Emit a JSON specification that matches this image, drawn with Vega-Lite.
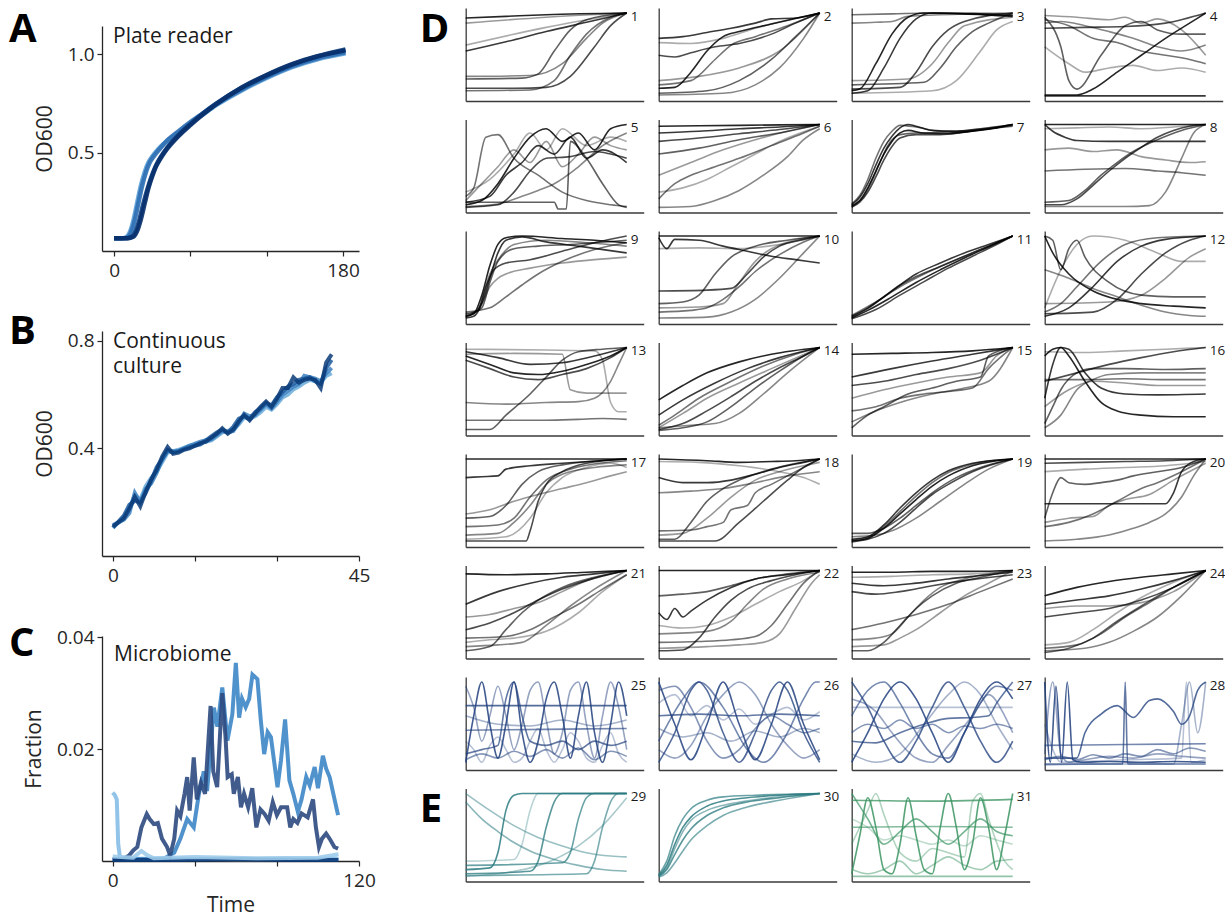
{
"$schema": "https://vega.github.io/schema/vega-lite/v6.json",
"padding": {"left": 9, "top": 8, "right": 0, "bottom": 0},
"autosize": {"type": "pad"},
"background": "white",
"config": {
  "font": "Open Sans",
  "view": {"stroke": null},
  "axis": {"grid": false, "labelFlush": false, "domainColor": "#262626", "domainWidth": 1.3, "tickColor": "#262626", "tickWidth": 1.2, "tickSize": 5, "labelFontSize": 19, "labelColor": "#262626", "labelPadding": 3, "titleFontSize": 21, "titleFontWeight": "normal", "titleColor": "#262626", "titlePadding": 8},
  "axisX": {"labelPadding": 5},
  "axisY": {"titlePadding": 12},
  "header": {"labels": false, "title": null, "labelFontSize": 0, "labelPadding": 0, "labelColor": "transparent"},
  "headerFacet": {"labels": false, "title": null, "labelFontSize": 0, "labelPadding": 0, "labelColor": "transparent"}
},
"spacing": 43.7,
"resolve": {"scale": {"x": "independent", "y": "independent", "color": "independent", "opacity": "independent"}},
"hconcat": [
{
 "bounds": "flush",
 "spacing": 0,
 "resolve": {"scale": {"x": "independent", "y": "independent", "color": "independent"}},
 "vconcat": [
 {"width": 257, "height": 18, "data": {"values": [{}]}, "mark": {"type": "point", "opacity": 0}, "encoding": {}},
 {
  "bounds": "flush",
  "spacing": 80,
  "resolve": {"scale": {"x": "independent", "y": "independent", "color": "independent"}},
  "vconcat": [
    {
      "width": 257, "height": 225,
      "layer": [
      {
        "data": {"values": [
{"s":0,"x":0,"y":0.065},{"s":0,"x":5,"y":0.065},{"s":0,"x":9,"y":0.068},{"s":0,"x":12,"y":0.09},{"s":0,"x":15,"y":0.15},{"s":0,"x":18,"y":0.24},{"s":0,"x":21,"y":0.33},{"s":0,"x":24,"y":0.4},{"s":0,"x":27,"y":0.45},{"s":0,"x":30,"y":0.48},{"s":0,"x":35,"y":0.52},{"s":0,"x":40,"y":0.55},{"s":0,"x":50,"y":0.6},{"s":0,"x":60,"y":0.65},{"s":0,"x":70,"y":0.695},{"s":0,"x":80,"y":0.74},{"s":0,"x":100,"y":0.815},{"s":0,"x":120,"y":0.88},{"s":0,"x":140,"y":0.935},{"s":0,"x":160,"y":0.975},{"s":0,"x":182,"y":1.005},
{"s":1,"x":0,"y":0.065},{"s":1,"x":5,"y":0.065},{"s":1,"x":10,"y":0.068},{"s":1,"x":13,"y":0.09},{"s":1,"x":16,"y":0.15},{"s":1,"x":19,"y":0.24},{"s":1,"x":22,"y":0.33},{"s":1,"x":25,"y":0.4},{"s":1,"x":28,"y":0.45},{"s":1,"x":31,"y":0.48},{"s":1,"x":36,"y":0.52},{"s":1,"x":40,"y":0.55},{"s":1,"x":50,"y":0.605},{"s":1,"x":60,"y":0.655},{"s":1,"x":70,"y":0.7},{"s":1,"x":80,"y":0.745},{"s":1,"x":100,"y":0.82},{"s":1,"x":120,"y":0.885},{"s":1,"x":140,"y":0.94},{"s":1,"x":160,"y":0.98},{"s":1,"x":182,"y":1.01},
{"s":2,"x":0,"y":0.065},{"s":2,"x":10,"y":0.065},{"s":2,"x":14,"y":0.072},{"s":2,"x":17,"y":0.1},{"s":2,"x":20,"y":0.16},{"s":2,"x":23,"y":0.24},{"s":2,"x":26,"y":0.31},{"s":2,"x":29,"y":0.37},{"s":2,"x":32,"y":0.42},{"s":2,"x":35,"y":0.46},{"s":2,"x":40,"y":0.51},{"s":2,"x":50,"y":0.585},{"s":2,"x":60,"y":0.645},{"s":2,"x":70,"y":0.7},{"s":2,"x":80,"y":0.748},{"s":2,"x":100,"y":0.828},{"s":2,"x":120,"y":0.893},{"s":2,"x":140,"y":0.948},{"s":2,"x":160,"y":0.99},{"s":2,"x":182,"y":1.025},
{"s":3,"x":0,"y":0.065},{"s":3,"x":11,"y":0.065},{"s":3,"x":15,"y":0.072},{"s":3,"x":18,"y":0.1},{"s":3,"x":21,"y":0.16},{"s":3,"x":24,"y":0.24},{"s":3,"x":27,"y":0.32},{"s":3,"x":30,"y":0.38},{"s":3,"x":33,"y":0.43},{"s":3,"x":36,"y":0.465},{"s":3,"x":40,"y":0.505},{"s":3,"x":50,"y":0.58},{"s":3,"x":60,"y":0.64},{"s":3,"x":70,"y":0.695},{"s":3,"x":80,"y":0.745},{"s":3,"x":100,"y":0.83},{"s":3,"x":120,"y":0.895},{"s":3,"x":140,"y":0.95},{"s":3,"x":160,"y":0.99},{"s":3,"x":182,"y":1.02}
        ]},
        "mark": {"type": "line", "strokeWidth": 4.5, "interpolate": "monotone", "opacity": 0.9},
        "encoding": {
          "x": {"field": "x", "type": "quantitative", "scale": {"domain": [-9.5, 192.6], "nice": false, "zero": false}, "axis": {"values": [0, 60, 120, 180], "labelExpr": "datum.value == 0 || datum.value == 180 ? datum.label : ''", "title": null}},
          "y": {"field": "y", "type": "quantitative", "scale": {"domain": [0, 1.144], "nice": false, "zero": false}, "axis": {"values": [0.5, 1], "format": ".1f", "title": "OD600"}},
          "color": {"field": "s", "type": "nominal", "scale": {"domain": [0, 1, 2, 3], "range": ["#5b9fd6", "#2f6fb4", "#0d3f80", "#08306b"]}, "legend": null}
        }
      },
      {"data": {"values": [{}]}, "mark": {"type": "text", "text": "A", "align": "left", "baseline": "middle", "dx": -93, "dy": 4, "fontSize": 40, "fontWeight": "bold", "color": "#000"}, "encoding": {"x": {"datum": -9.5}, "y": {"datum": 1.144}}},
      {"data": {"values": [{}]}, "mark": {"type": "text", "text": "Plate reader", "align": "left", "baseline": "top", "dx": 11, "dy": 0, "fontSize": 21, "color": "#1a1a1a"}, "encoding": {"x": {"datum": -9.5}, "y": {"datum": 1.144}}}
      ]
    },
    {
      "width": 257, "height": 225,
      "layer": [
      {
        "data": {"values": [
{"s":0,"x":0,"y":0.105},{"s":0,"x":2,"y":0.145},{"s":0,"x":3,"y":0.18},{"s":0,"x":4,"y":0.225},{"s":0,"x":5,"y":0.21},{"s":0,"x":6,"y":0.26},{"s":0,"x":7,"y":0.29},{"s":0,"x":8,"y":0.315},{"s":0,"x":9,"y":0.35},{"s":0,"x":10,"y":0.385},{"s":0,"x":11,"y":0.39},{"s":0,"x":12,"y":0.395},{"s":0,"x":14,"y":0.41},{"s":0,"x":16,"y":0.42},{"s":0,"x":18,"y":0.43},{"s":0,"x":20,"y":0.46},{"s":0,"x":22,"y":0.47},{"s":0,"x":23,"y":0.49},{"s":0,"x":24,"y":0.515},{"s":0,"x":25,"y":0.51},{"s":0,"x":26,"y":0.52},{"s":0,"x":27,"y":0.535},{"s":0,"x":28,"y":0.555},{"s":0,"x":29,"y":0.545},{"s":0,"x":30,"y":0.565},{"s":0,"x":31,"y":0.59},{"s":0,"x":32,"y":0.6},{"s":0,"x":33,"y":0.62},{"s":0,"x":34,"y":0.63},{"s":0,"x":35,"y":0.645},{"s":0,"x":36,"y":0.655},{"s":0,"x":37,"y":0.65},{"s":0,"x":38,"y":0.645},{"s":0,"x":39,"y":0.67},{"s":0,"x":40,"y":0.68},
{"s":1,"x":0,"y":0.115},{"s":1,"x":2,"y":0.135},{"s":1,"x":3,"y":0.16},{"s":1,"x":4,"y":0.235},{"s":1,"x":5,"y":0.2},{"s":1,"x":6,"y":0.25},{"s":1,"x":7,"y":0.27},{"s":1,"x":8,"y":0.31},{"s":1,"x":9,"y":0.36},{"s":1,"x":10,"y":0.39},{"s":1,"x":11,"y":0.39},{"s":1,"x":12,"y":0.39},{"s":1,"x":14,"y":0.41},{"s":1,"x":16,"y":0.425},{"s":1,"x":18,"y":0.435},{"s":1,"x":20,"y":0.465},{"s":1,"x":21,"y":0.46},{"s":1,"x":22,"y":0.465},{"s":1,"x":23,"y":0.495},{"s":1,"x":24,"y":0.53},{"s":1,"x":25,"y":0.52},{"s":1,"x":26,"y":0.525},{"s":1,"x":27,"y":0.545},{"s":1,"x":28,"y":0.565},{"s":1,"x":29,"y":0.55},{"s":1,"x":30,"y":0.575},{"s":1,"x":31,"y":0.6},{"s":1,"x":32,"y":0.615},{"s":1,"x":33,"y":0.63},{"s":1,"x":34,"y":0.64},{"s":1,"x":35,"y":0.67},{"s":1,"x":36,"y":0.665},{"s":1,"x":37,"y":0.66},{"s":1,"x":38,"y":0.65},{"s":1,"x":39,"y":0.68},{"s":1,"x":40,"y":0.7},
{"s":2,"x":0,"y":0.105},{"s":2,"x":2,"y":0.15},{"s":2,"x":3,"y":0.19},{"s":2,"x":4,"y":0.205},{"s":2,"x":5,"y":0.2},{"s":2,"x":6,"y":0.235},{"s":2,"x":7,"y":0.28},{"s":2,"x":8,"y":0.33},{"s":2,"x":9,"y":0.36},{"s":2,"x":10,"y":0.395},{"s":2,"x":11,"y":0.385},{"s":2,"x":12,"y":0.39},{"s":2,"x":14,"y":0.405},{"s":2,"x":16,"y":0.415},{"s":2,"x":18,"y":0.445},{"s":2,"x":19,"y":0.46},{"s":2,"x":20,"y":0.47},{"s":2,"x":21,"y":0.46},{"s":2,"x":22,"y":0.48},{"s":2,"x":23,"y":0.51},{"s":2,"x":24,"y":0.52},{"s":2,"x":25,"y":0.51},{"s":2,"x":26,"y":0.535},{"s":2,"x":27,"y":0.55},{"s":2,"x":28,"y":0.57},{"s":2,"x":29,"y":0.56},{"s":2,"x":30,"y":0.59},{"s":2,"x":31,"y":0.61},{"s":2,"x":32,"y":0.63},{"s":2,"x":33,"y":0.64},{"s":2,"x":34,"y":0.655},{"s":2,"x":35,"y":0.66},{"s":2,"x":36,"y":0.665},{"s":2,"x":37,"y":0.65},{"s":2,"x":38,"y":0.64},{"s":2,"x":39,"y":0.7},{"s":2,"x":40,"y":0.73},
{"s":3,"x":0,"y":0.11},{"s":3,"x":1,"y":0.125},{"s":3,"x":2,"y":0.14},{"s":3,"x":3,"y":0.175},{"s":3,"x":4,"y":0.22},{"s":3,"x":5,"y":0.185},{"s":3,"x":6,"y":0.24},{"s":3,"x":7,"y":0.285},{"s":3,"x":8,"y":0.32},{"s":3,"x":9,"y":0.37},{"s":3,"x":10,"y":0.405},{"s":3,"x":11,"y":0.38},{"s":3,"x":12,"y":0.385},{"s":3,"x":13,"y":0.395},{"s":3,"x":14,"y":0.4},{"s":3,"x":15,"y":0.41},{"s":3,"x":16,"y":0.42},{"s":3,"x":17,"y":0.425},{"s":3,"x":18,"y":0.44},{"s":3,"x":19,"y":0.455},{"s":3,"x":20,"y":0.475},{"s":3,"x":21,"y":0.455},{"s":3,"x":22,"y":0.47},{"s":3,"x":23,"y":0.5},{"s":3,"x":24,"y":0.525},{"s":3,"x":25,"y":0.505},{"s":3,"x":26,"y":0.53},{"s":3,"x":27,"y":0.555},{"s":3,"x":28,"y":0.575},{"s":3,"x":29,"y":0.555},{"s":3,"x":30,"y":0.585},{"s":3,"x":31,"y":0.625},{"s":3,"x":32,"y":0.625},{"s":3,"x":33,"y":0.665},{"s":3,"x":34,"y":0.645},{"s":3,"x":35,"y":0.655},{"s":3,"x":36,"y":0.66},{"s":3,"x":37,"y":0.655},{"s":3,"x":38,"y":0.625},{"s":3,"x":39,"y":0.72},{"s":3,"x":40,"y":0.75}
        ]},
        "mark": {"type": "line", "strokeWidth": 4, "opacity": 0.85},
        "encoding": {
          "x": {"field": "x", "type": "quantitative", "scale": {"domain": [-2, 45], "nice": false, "zero": false}, "axis": {"values": [0, 15, 30, 45], "labelExpr": "datum.value == 0 || datum.value == 45 ? datum.label : ''", "title": null}},
          "y": {"field": "y", "type": "quantitative", "scale": {"domain": [0, 0.837], "nice": false, "zero": false}, "axis": {"values": [0.4, 0.8], "format": ".1f", "title": "OD600"}},
          "color": {"field": "s", "type": "nominal", "scale": {"domain": [0, 1, 2, 3], "range": ["#6aaad9", "#3b80c0", "#1c5a9e", "#0b3b78"]}, "legend": null}
        }
      },
      {"data": {"values": [{}]}, "mark": {"type": "text", "text": "B", "align": "left", "baseline": "middle", "dx": -93, "dy": 1, "fontSize": 40, "fontWeight": "bold", "color": "#000"}, "encoding": {"x": {"datum": -2}, "y": {"datum": 0.837}}},
      {"data": {"values": [{}]}, "mark": {"type": "text", "text": ["Continuous", "culture"], "lineHeight": 25, "align": "left", "baseline": "top", "dx": 11, "dy": 0, "fontSize": 21, "color": "#1a1a1a"}, "encoding": {"x": {"datum": -2}, "y": {"datum": 0.837}}}
      ]
    },
    {
      "width": 257, "height": 225,
      "layer": [
      {
        "data": {"values": [
{"s":0,"x":0,"y":0.0122},{"s":0,"x":1,"y":0.0118},{"s":0,"x":2,"y":0.011},{"s":0,"x":2.7,"y":0.003},{"s":0,"x":3.5,"y":0.0008},{"s":0,"x":6,"y":0.0004},{"s":0,"x":30,"y":0.0004},{"s":0,"x":60,"y":0.0003},{"s":0,"x":110,"y":0.0004},
{"s":1,"x":0,"y":0.0003},{"s":1,"x":25,"y":0.0004},{"s":1,"x":30,"y":0.0015},{"s":1,"x":33,"y":0.004},{"s":1,"x":36.3,"y":0.0075},{"s":1,"x":39.5,"y":0.006},{"s":1,"x":42,"y":0.012},{"s":1,"x":44.4,"y":0.016},{"s":1,"x":46,"y":0.0125},{"s":1,"x":49.3,"y":0.0274},{"s":1,"x":51,"y":0.024},{"s":1,"x":53.4,"y":0.031},{"s":1,"x":55.9,"y":0.0215},{"s":1,"x":58.3,"y":0.0262},{"s":1,"x":60,"y":0.0354},{"s":1,"x":61.6,"y":0.0256},{"s":1,"x":63,"y":0.029},{"s":1,"x":64.8,"y":0.0275},{"s":1,"x":66.5,"y":0.029},{"s":1,"x":68.1,"y":0.0333},{"s":1,"x":70.5,"y":0.0325},{"s":1,"x":72.2,"y":0.025},{"s":1,"x":73.8,"y":0.0191},{"s":1,"x":75.5,"y":0.023},{"s":1,"x":77.1,"y":0.0221},{"s":1,"x":80.3,"y":0.0132},{"s":1,"x":82,"y":0.018},{"s":1,"x":84,"y":0.0253},{"s":1,"x":86.1,"y":0.0144},{"s":1,"x":88,"y":0.012},{"s":1,"x":90.2,"y":0.0088},{"s":1,"x":92,"y":0.011},{"s":1,"x":94.3,"y":0.015},{"s":1,"x":96,"y":0.0135},{"s":1,"x":98.4,"y":0.0168},{"s":1,"x":100,"y":0.013},{"s":1,"x":102.4,"y":0.0188},{"s":1,"x":104,"y":0.0165},{"s":1,"x":105.7,"y":0.015},{"s":1,"x":107.5,"y":0.012},{"s":1,"x":109.8,"y":0.0082},
{"s":2,"x":0,"y":0.0003},{"s":2,"x":5,"y":0.0003},{"s":2,"x":8,"y":0.001},{"s":2,"x":10,"y":0.0019},{"s":2,"x":12,"y":0.0025},{"s":2,"x":14,"y":0.006},{"s":2,"x":16.6,"y":0.0084},{"s":2,"x":18,"y":0.0075},{"s":2,"x":20,"y":0.0066},{"s":2,"x":22,"y":0.0068},{"s":2,"x":24,"y":0.004},{"s":2,"x":26.5,"y":0.0025},{"s":2,"x":28,"y":0.001},{"s":2,"x":30,"y":0.004},{"s":2,"x":31.4,"y":0.009},{"s":2,"x":33,"y":0.008},{"s":2,"x":35,"y":0.012},{"s":2,"x":36.3,"y":0.015},{"s":2,"x":37.5,"y":0.009},{"s":2,"x":39.5,"y":0.0185},{"s":2,"x":41,"y":0.011},{"s":2,"x":43,"y":0.014},{"s":2,"x":45,"y":0.012},{"s":2,"x":47.7,"y":0.0277},{"s":2,"x":49,"y":0.016},{"s":2,"x":50.9,"y":0.0132},{"s":2,"x":53.4,"y":0.03},{"s":2,"x":55,"y":0.022},{"s":2,"x":56,"y":0.015},{"s":2,"x":58,"y":0.0155},{"s":2,"x":59,"y":0.012},{"s":2,"x":61,"y":0.015},{"s":2,"x":62.5,"y":0.0096},{"s":2,"x":64,"y":0.012},{"s":2,"x":66,"y":0.0096},{"s":2,"x":68,"y":0.013},{"s":2,"x":70,"y":0.006},{"s":2,"x":72,"y":0.0092},{"s":2,"x":74,"y":0.0084},{"s":2,"x":76,"y":0.0072},{"s":2,"x":78,"y":0.0105},{"s":2,"x":80,"y":0.0082},{"s":2,"x":82,"y":0.0096},{"s":2,"x":85,"y":0.0096},{"s":2,"x":86.5,"y":0.006},{"s":2,"x":88,"y":0.0075},{"s":2,"x":90,"y":0.0068},{"s":2,"x":92,"y":0.0085},{"s":2,"x":95,"y":0.0078},{"s":2,"x":97.6,"y":0.011},{"s":2,"x":99,"y":0.006},{"s":2,"x":100.5,"y":0.0025},{"s":2,"x":102,"y":0.004},{"s":2,"x":104,"y":0.0049},{"s":2,"x":106,"y":0.0038},{"s":2,"x":108,"y":0.0025},{"s":2,"x":109.8,"y":0.0022},
{"s":3,"x":0,"y":0.0002},{"s":3,"x":30,"y":0.0002},{"s":3,"x":60,"y":0.0003},{"s":3,"x":90,"y":0.0002},{"s":3,"x":110,"y":0.0002},
{"s":4,"x":0,"y":0.0008},{"s":4,"x":10,"y":0.0006},{"s":4,"x":14,"y":0.0018},{"s":4,"x":17,"y":0.001},{"s":4,"x":20,"y":0.0005},{"s":4,"x":40,"y":0.0007},{"s":4,"x":70,"y":0.0005},{"s":4,"x":100,"y":0.0006},{"s":4,"x":110,"y":0.0012}
        ]},
        "mark": {"type": "line", "strokeWidth": 4, "opacity": 0.9},
        "encoding": {
          "x": {"field": "x", "type": "quantitative", "scale": {"domain": [-5.2, 120], "nice": false, "zero": false}, "axis": {"values": [0, 40, 80, 120], "labelExpr": "datum.value == 0 || datum.value == 120 ? datum.label : ''", "title": "Time", "titlePadding": 4}},
          "y": {"field": "y", "type": "quantitative", "scale": {"domain": [0, 0.0402], "nice": false, "zero": false}, "axis": {"values": [0.02, 0.04], "format": ".2f", "title": "Fraction"}},
          "color": {"field": "s", "type": "nominal", "scale": {"domain": [0, 1, 2, 3, 4], "range": ["#86bde6", "#3d86c6", "#2c4a80", "#0b3a78", "#9ccbea"]}, "legend": null}
        }
      },
      {"data": {"values": [{}]}, "mark": {"type": "text", "text": "C", "align": "left", "baseline": "middle", "dx": -93, "dy": 8, "fontSize": 40, "fontWeight": "bold", "color": "#000"}, "encoding": {"x": {"datum": -5.2}, "y": {"datum": 0.0402}}},
      {"data": {"values": [{}]}, "mark": {"type": "text", "text": "Microbiome", "align": "left", "baseline": "top", "dx": 12, "dy": 8, "fontSize": 21, "color": "#1a1a1a"}, "encoding": {"x": {"datum": -5.2}, "y": {"datum": 0.0402}}}
      ]
    }
  ]
 }
 ]
},
{
  "data": {"values": [
{"p":1,"s":0,"x":0,"y":94},{"p":1,"s":0,"x":5,"y":96},{"p":1,"s":0,"x":10,"y":98},{"p":1,"s":0,"x":20,"y":100},
{"p":1,"s":1,"x":0,"y":55},{"p":1,"s":1,"x":5,"y":66},{"p":1,"s":1,"x":10,"y":78},{"p":1,"s":1,"x":15,"y":89},{"p":1,"s":1,"x":20,"y":100},
{"p":1,"s":2,"x":0,"y":11},{"p":1,"s":2,"x":6,"y":11},{"p":1,"s":2,"x":10,"y":12},{"p":1,"s":2,"x":13,"y":25},{"p":1,"s":2,"x":16,"y":60},{"p":1,"s":2,"x":18,"y":85},{"p":1,"s":2,"x":20,"y":100},
{"p":1,"s":3,"x":0,"y":22},{"p":1,"s":3,"x":7,"y":23},{"p":1,"s":3,"x":9,"y":28},{"p":1,"s":3,"x":11,"y":55},{"p":1,"s":3,"x":13,"y":80},{"p":1,"s":3,"x":15,"y":92},{"p":1,"s":3,"x":20,"y":100},
{"p":1,"s":4,"x":0,"y":8},{"p":1,"s":4,"x":8,"y":9},{"p":1,"s":4,"x":11,"y":20},{"p":1,"s":4,"x":13,"y":50},{"p":1,"s":4,"x":15,"y":75},{"p":1,"s":4,"x":18,"y":95},{"p":1,"s":4,"x":20,"y":100},
{"p":1,"s":5,"x":0,"y":25},{"p":1,"s":5,"x":8,"y":26},{"p":1,"s":5,"x":12,"y":40},{"p":1,"s":5,"x":15,"y":70},{"p":1,"s":5,"x":17,"y":88},{"p":1,"s":5,"x":20,"y":100},
{"p":1,"s":6,"x":0,"y":88},{"p":1,"s":6,"x":10,"y":95},{"p":1,"s":6,"x":20,"y":100},
{"p":1,"s":7,"x":0,"y":62},{"p":1,"s":7,"x":10,"y":83},{"p":1,"s":7,"x":20,"y":100},
{"p":2,"s":0,"x":0,"y":11},{"p":2,"s":0,"x":2,"y":12},{"p":2,"s":0,"x":4,"y":30},{"p":2,"s":0,"x":6,"y":55},{"p":2,"s":0,"x":8,"y":72},{"p":2,"s":0,"x":10,"y":78},{"p":2,"s":0,"x":14,"y":87},{"p":2,"s":0,"x":20,"y":100},
{"p":2,"s":1,"x":0,"y":70},{"p":2,"s":1,"x":3,"y":72},{"p":2,"s":1,"x":6,"y":77},{"p":2,"s":1,"x":9,"y":82},{"p":2,"s":1,"x":12,"y":88},{"p":2,"s":1,"x":14,"y":93},{"p":2,"s":1,"x":17,"y":94},{"p":2,"s":1,"x":20,"y":100},
{"p":2,"s":2,"x":0,"y":50},{"p":2,"s":2,"x":2,"y":48},{"p":2,"s":2,"x":4,"y":53},{"p":2,"s":2,"x":7,"y":60},{"p":2,"s":2,"x":10,"y":64},{"p":2,"s":2,"x":14,"y":75},{"p":2,"s":2,"x":17,"y":88},{"p":2,"s":2,"x":20,"y":100},
{"p":2,"s":3,"x":0,"y":5},{"p":2,"s":3,"x":6,"y":8},{"p":2,"s":3,"x":10,"y":20},{"p":2,"s":3,"x":14,"y":45},{"p":2,"s":3,"x":17,"y":72},{"p":2,"s":3,"x":20,"y":100},
{"p":2,"s":4,"x":0,"y":15},{"p":2,"s":4,"x":4,"y":20},{"p":2,"s":4,"x":7,"y":45},{"p":2,"s":4,"x":9,"y":62},{"p":2,"s":4,"x":12,"y":72},{"p":2,"s":4,"x":16,"y":85},{"p":2,"s":4,"x":20,"y":100},
{"p":2,"s":5,"x":0,"y":3},{"p":2,"s":5,"x":8,"y":5},{"p":2,"s":5,"x":12,"y":15},{"p":2,"s":5,"x":15,"y":35},{"p":2,"s":5,"x":18,"y":70},{"p":2,"s":5,"x":20,"y":100},
{"p":2,"s":6,"x":0,"y":20},{"p":2,"s":6,"x":5,"y":25},{"p":2,"s":6,"x":10,"y":35},{"p":2,"s":6,"x":15,"y":55},{"p":2,"s":6,"x":20,"y":100},
{"p":2,"s":7,"x":0,"y":65},{"p":2,"s":7,"x":4,"y":64},{"p":2,"s":7,"x":8,"y":70},{"p":2,"s":7,"x":12,"y":82},{"p":2,"s":7,"x":20,"y":100},
{"p":3,"s":0,"x":0,"y":8},{"p":3,"s":0,"x":1,"y":10},{"p":3,"s":0,"x":3,"y":40},{"p":3,"s":0,"x":5,"y":75},{"p":3,"s":0,"x":7,"y":95},{"p":3,"s":0,"x":9,"y":100},{"p":3,"s":0,"x":14,"y":99},{"p":3,"s":0,"x":20,"y":96},
{"p":3,"s":1,"x":0,"y":5},{"p":3,"s":1,"x":2,"y":8},{"p":3,"s":1,"x":4,"y":35},{"p":3,"s":1,"x":6,"y":70},{"p":3,"s":1,"x":8,"y":93},{"p":3,"s":1,"x":10,"y":100},{"p":3,"s":1,"x":20,"y":97},
{"p":3,"s":2,"x":0,"y":10},{"p":3,"s":2,"x":6,"y":12},{"p":3,"s":2,"x":8,"y":30},{"p":3,"s":2,"x":10,"y":60},{"p":3,"s":2,"x":12,"y":80},{"p":3,"s":2,"x":14,"y":90},{"p":3,"s":2,"x":20,"y":100},
{"p":3,"s":3,"x":0,"y":15},{"p":3,"s":3,"x":9,"y":18},{"p":3,"s":3,"x":11,"y":35},{"p":3,"s":3,"x":13,"y":60},{"p":3,"s":3,"x":15,"y":78},{"p":3,"s":3,"x":17,"y":88},{"p":3,"s":3,"x":20,"y":100},
{"p":3,"s":4,"x":0,"y":98},{"p":3,"s":4,"x":5,"y":99},{"p":3,"s":4,"x":10,"y":100},{"p":3,"s":4,"x":15,"y":100},{"p":3,"s":4,"x":20,"y":98},
{"p":3,"s":5,"x":0,"y":88},{"p":3,"s":5,"x":3,"y":89},{"p":3,"s":5,"x":5,"y":90},{"p":3,"s":5,"x":7,"y":96},{"p":3,"s":5,"x":20,"y":100},
{"p":3,"s":6,"x":0,"y":20},{"p":3,"s":6,"x":7,"y":22},{"p":3,"s":6,"x":10,"y":40},{"p":3,"s":6,"x":12,"y":65},{"p":3,"s":6,"x":14,"y":85},{"p":3,"s":6,"x":20,"y":95},
{"p":3,"s":7,"x":0,"y":5},{"p":3,"s":7,"x":10,"y":8},{"p":3,"s":7,"x":13,"y":20},{"p":3,"s":7,"x":16,"y":55},{"p":3,"s":7,"x":18,"y":80},{"p":3,"s":7,"x":20,"y":90},
{"p":4,"s":0,"x":0,"y":3},{"p":4,"s":0,"x":4,"y":3},{"p":4,"s":0,"x":6,"y":10},{"p":4,"s":0,"x":9,"y":30},{"p":4,"s":0,"x":12,"y":50},{"p":4,"s":0,"x":15,"y":70},{"p":4,"s":0,"x":18,"y":88},{"p":4,"s":0,"x":20,"y":100},
{"p":4,"s":1,"x":0,"y":2},{"p":4,"s":1,"x":20,"y":2},
{"p":4,"s":2,"x":0,"y":82},{"p":4,"s":2,"x":5,"y":83},{"p":4,"s":2,"x":10,"y":84},{"p":4,"s":2,"x":15,"y":88},{"p":4,"s":2,"x":20,"y":100},
{"p":4,"s":3,"x":0,"y":95},{"p":4,"s":3,"x":2,"y":60},{"p":4,"s":3,"x":3,"y":20},{"p":4,"s":3,"x":4,"y":10},{"p":4,"s":3,"x":7,"y":50},{"p":4,"s":3,"x":10,"y":85},{"p":4,"s":3,"x":12,"y":90},{"p":4,"s":3,"x":14,"y":80},{"p":4,"s":3,"x":17,"y":75},{"p":4,"s":3,"x":20,"y":75},
{"p":4,"s":4,"x":0,"y":92},{"p":4,"s":4,"x":3,"y":85},{"p":4,"s":4,"x":6,"y":70},{"p":4,"s":4,"x":9,"y":65},{"p":4,"s":4,"x":12,"y":55},{"p":4,"s":4,"x":15,"y":50},{"p":4,"s":4,"x":18,"y":45},{"p":4,"s":4,"x":20,"y":40},
{"p":4,"s":5,"x":0,"y":88},{"p":4,"s":5,"x":2,"y":90},{"p":4,"s":5,"x":5,"y":85},{"p":4,"s":5,"x":8,"y":78},{"p":4,"s":5,"x":11,"y":70},{"p":4,"s":5,"x":14,"y":60},{"p":4,"s":5,"x":17,"y":55},{"p":4,"s":5,"x":20,"y":62},
{"p":4,"s":6,"x":0,"y":97},{"p":4,"s":6,"x":4,"y":95},{"p":4,"s":6,"x":8,"y":92},{"p":4,"s":6,"x":10,"y":95},{"p":4,"s":6,"x":12,"y":88},{"p":4,"s":6,"x":14,"y":93},{"p":4,"s":6,"x":17,"y":80},{"p":4,"s":6,"x":20,"y":50},
{"p":4,"s":7,"x":0,"y":60},{"p":4,"s":7,"x":3,"y":40},{"p":4,"s":7,"x":5,"y":30},{"p":4,"s":7,"x":8,"y":35},{"p":4,"s":7,"x":11,"y":38},{"p":4,"s":7,"x":14,"y":32},{"p":4,"s":7,"x":17,"y":35},{"p":4,"s":7,"x":20,"y":30},
{"p":5,"s":0,"x":0,"y":5},{"p":5,"s":0,"x":2,"y":10},{"p":5,"s":0,"x":4,"y":30},{"p":5,"s":0,"x":6,"y":60},{"p":5,"s":0,"x":8,"y":85},{"p":5,"s":0,"x":10,"y":95},{"p":5,"s":0,"x":12,"y":80},{"p":5,"s":0,"x":14,"y":90},{"p":5,"s":0,"x":16,"y":70},{"p":5,"s":0,"x":18,"y":95},{"p":5,"s":0,"x":20,"y":100},
{"p":5,"s":1,"x":0,"y":8},{"p":5,"s":1,"x":3,"y":15},{"p":5,"s":1,"x":5,"y":40},{"p":5,"s":1,"x":7,"y":55},{"p":5,"s":1,"x":9,"y":75},{"p":5,"s":1,"x":11,"y":65},{"p":5,"s":1,"x":13,"y":85},{"p":5,"s":1,"x":15,"y":60},{"p":5,"s":1,"x":17,"y":70},{"p":5,"s":1,"x":20,"y":55},
{"p":5,"s":2,"x":0,"y":2},{"p":5,"s":2,"x":4,"y":5},{"p":5,"s":2,"x":6,"y":20},{"p":5,"s":2,"x":8,"y":45},{"p":5,"s":2,"x":10,"y":60},{"p":5,"s":2,"x":13,"y":62},{"p":5,"s":2,"x":16,"y":68},{"p":5,"s":2,"x":18,"y":65},{"p":5,"s":2,"x":20,"y":60},
{"p":5,"s":3,"x":0,"y":8},{"p":5,"s":3,"x":11,"y":8},{"p":5,"s":3,"x":11.5,"y":0},{"p":5,"s":3,"x":12.5,"y":0},{"p":5,"s":3,"x":13,"y":80},{"p":5,"s":3,"x":15,"y":60},{"p":5,"s":3,"x":17,"y":30},{"p":5,"s":3,"x":19,"y":5},{"p":5,"s":3,"x":20,"y":2},
{"p":5,"s":4,"x":0,"y":15},{"p":5,"s":4,"x":1,"y":25},{"p":5,"s":4,"x":2.5,"y":85},{"p":5,"s":4,"x":4,"y":88},{"p":5,"s":4,"x":6,"y":60},{"p":5,"s":4,"x":9,"y":40},{"p":5,"s":4,"x":12,"y":20},{"p":5,"s":4,"x":15,"y":10},{"p":5,"s":4,"x":18,"y":5},{"p":5,"s":4,"x":20,"y":3},
{"p":5,"s":5,"x":0,"y":3},{"p":5,"s":5,"x":4,"y":6},{"p":5,"s":5,"x":7,"y":15},{"p":5,"s":5,"x":9,"y":22},{"p":5,"s":5,"x":11,"y":30},{"p":5,"s":5,"x":14,"y":50},{"p":5,"s":5,"x":17,"y":75},{"p":5,"s":5,"x":20,"y":90},
{"p":5,"s":6,"x":0,"y":10},{"p":5,"s":6,"x":2,"y":30},{"p":5,"s":6,"x":4,"y":50},{"p":5,"s":6,"x":6,"y":70},{"p":5,"s":6,"x":8,"y":55},{"p":5,"s":6,"x":10,"y":80},{"p":5,"s":6,"x":12,"y":50},{"p":5,"s":6,"x":14,"y":65},{"p":5,"s":6,"x":16,"y":85},{"p":5,"s":6,"x":18,"y":75},{"p":5,"s":6,"x":20,"y":70},
{"p":5,"s":7,"x":0,"y":20},{"p":5,"s":7,"x":3,"y":35},{"p":5,"s":7,"x":6,"y":65},{"p":5,"s":7,"x":8,"y":90},{"p":5,"s":7,"x":10,"y":70},{"p":5,"s":7,"x":12,"y":95},{"p":5,"s":7,"x":15,"y":75},{"p":5,"s":7,"x":18,"y":85},{"p":5,"s":7,"x":20,"y":80},
{"p":6,"s":0,"x":0,"y":98},{"p":6,"s":0,"x":10,"y":99},{"p":6,"s":0,"x":20,"y":100},
{"p":6,"s":1,"x":0,"y":90},{"p":6,"s":1,"x":5,"y":92},{"p":6,"s":1,"x":10,"y":95},{"p":6,"s":1,"x":15,"y":97},{"p":6,"s":1,"x":20,"y":100},
{"p":6,"s":2,"x":0,"y":80},{"p":6,"s":2,"x":5,"y":84},{"p":6,"s":2,"x":10,"y":89},{"p":6,"s":2,"x":15,"y":94},{"p":6,"s":2,"x":20,"y":100},
{"p":6,"s":3,"x":0,"y":65},{"p":6,"s":3,"x":5,"y":72},{"p":6,"s":3,"x":10,"y":82},{"p":6,"s":3,"x":15,"y":90},{"p":6,"s":3,"x":20,"y":100},
{"p":6,"s":4,"x":0,"y":12},{"p":6,"s":4,"x":2,"y":30},{"p":6,"s":4,"x":4,"y":40},{"p":6,"s":4,"x":7,"y":50},{"p":6,"s":4,"x":10,"y":60},{"p":6,"s":4,"x":14,"y":75},{"p":6,"s":4,"x":18,"y":90},{"p":6,"s":4,"x":20,"y":98},
{"p":6,"s":5,"x":0,"y":2},{"p":6,"s":5,"x":4,"y":3},{"p":6,"s":5,"x":7,"y":10},{"p":6,"s":5,"x":10,"y":22},{"p":6,"s":5,"x":13,"y":40},{"p":6,"s":5,"x":16,"y":62},{"p":6,"s":5,"x":18,"y":82},{"p":6,"s":5,"x":20,"y":95},
{"p":6,"s":6,"x":0,"y":40},{"p":6,"s":6,"x":4,"y":55},{"p":6,"s":6,"x":8,"y":70},{"p":6,"s":6,"x":12,"y":82},{"p":6,"s":6,"x":16,"y":92},{"p":6,"s":6,"x":20,"y":100},
{"p":6,"s":7,"x":0,"y":20},{"p":6,"s":7,"x":3,"y":25},{"p":6,"s":7,"x":6,"y":35},{"p":6,"s":7,"x":9,"y":50},{"p":6,"s":7,"x":12,"y":65},{"p":6,"s":7,"x":15,"y":80},{"p":6,"s":7,"x":20,"y":98},
{"p":7,"s":0,"x":0,"y":3},{"p":7,"s":0,"x":1,"y":10},{"p":7,"s":0,"x":2,"y":25},{"p":7,"s":0,"x":3,"y":45},{"p":7,"s":0,"x":4,"y":65},{"p":7,"s":0,"x":5,"y":80},{"p":7,"s":0,"x":6,"y":90},{"p":7,"s":0,"x":7,"y":93},{"p":7,"s":0,"x":9,"y":90},{"p":7,"s":0,"x":12,"y":90},{"p":7,"s":0,"x":15,"y":92},{"p":7,"s":0,"x":18,"y":96},{"p":7,"s":0,"x":20,"y":100},
{"p":7,"s":1,"x":0,"y":5},{"p":7,"s":1,"x":1,"y":14},{"p":7,"s":1,"x":2,"y":30},{"p":7,"s":1,"x":3,"y":52},{"p":7,"s":1,"x":4,"y":72},{"p":7,"s":1,"x":5,"y":86},{"p":7,"s":1,"x":6,"y":96},{"p":7,"s":1,"x":7,"y":100},{"p":7,"s":1,"x":8,"y":98},{"p":7,"s":1,"x":10,"y":93},{"p":7,"s":1,"x":13,"y":92},{"p":7,"s":1,"x":16,"y":95},{"p":7,"s":1,"x":20,"y":100},
{"p":7,"s":2,"x":0,"y":2},{"p":7,"s":2,"x":1,"y":8},{"p":7,"s":2,"x":2,"y":20},{"p":7,"s":2,"x":3,"y":38},{"p":7,"s":2,"x":4,"y":58},{"p":7,"s":2,"x":5,"y":74},{"p":7,"s":2,"x":6,"y":84},{"p":7,"s":2,"x":8,"y":88},{"p":7,"s":2,"x":11,"y":88},{"p":7,"s":2,"x":14,"y":91},{"p":7,"s":2,"x":17,"y":95},{"p":7,"s":2,"x":20,"y":100},
{"p":7,"s":3,"x":0,"y":4},{"p":7,"s":3,"x":1.5,"y":15},{"p":7,"s":3,"x":2.5,"y":33},{"p":7,"s":3,"x":3.5,"y":55},{"p":7,"s":3,"x":4.5,"y":75},{"p":7,"s":3,"x":6,"y":88},{"p":7,"s":3,"x":8,"y":90},{"p":7,"s":3,"x":12,"y":89},{"p":7,"s":3,"x":16,"y":94},{"p":7,"s":3,"x":20,"y":98},
{"p":7,"s":4,"x":0,"y":6},{"p":7,"s":4,"x":1,"y":16},{"p":7,"s":4,"x":2,"y":35},{"p":7,"s":4,"x":3,"y":60},{"p":7,"s":4,"x":4,"y":80},{"p":7,"s":4,"x":5,"y":92},{"p":7,"s":4,"x":6,"y":99},{"p":7,"s":4,"x":8,"y":97},{"p":7,"s":4,"x":11,"y":92},{"p":7,"s":4,"x":15,"y":93},{"p":7,"s":4,"x":20,"y":99},
{"p":8,"s":0,"x":0,"y":100},{"p":8,"s":0,"x":20,"y":100},
{"p":8,"s":1,"x":0,"y":100},{"p":8,"s":1,"x":1,"y":92},{"p":8,"s":1,"x":2.5,"y":85},{"p":8,"s":1,"x":4,"y":81},{"p":8,"s":1,"x":8,"y":80},{"p":8,"s":1,"x":20,"y":80},
{"p":8,"s":2,"x":0,"y":5},{"p":8,"s":2,"x":2,"y":5},{"p":8,"s":2,"x":4,"y":12},{"p":8,"s":2,"x":6,"y":28},{"p":8,"s":2,"x":8,"y":45},{"p":8,"s":2,"x":10,"y":60},{"p":8,"s":2,"x":12,"y":73},{"p":8,"s":2,"x":14,"y":85},{"p":8,"s":2,"x":16,"y":93},{"p":8,"s":2,"x":18,"y":98},{"p":8,"s":2,"x":20,"y":100},
{"p":8,"s":3,"x":0,"y":8},{"p":8,"s":3,"x":3,"y":10},{"p":8,"s":3,"x":5,"y":22},{"p":8,"s":3,"x":7,"y":40},{"p":8,"s":3,"x":9,"y":55},{"p":8,"s":3,"x":11,"y":68},{"p":8,"s":3,"x":14,"y":82},{"p":8,"s":3,"x":17,"y":93},{"p":8,"s":3,"x":20,"y":100},
{"p":8,"s":4,"x":0,"y":45},{"p":8,"s":4,"x":5,"y":47},{"p":8,"s":4,"x":10,"y":48},{"p":8,"s":4,"x":14,"y":45},{"p":8,"s":4,"x":17,"y":43},{"p":8,"s":4,"x":20,"y":40},
{"p":8,"s":5,"x":0,"y":3},{"p":8,"s":5,"x":10,"y":3},{"p":8,"s":5,"x":13,"y":4},{"p":8,"s":5,"x":15,"y":20},{"p":8,"s":5,"x":17,"y":60},{"p":8,"s":5,"x":18.5,"y":90},{"p":8,"s":5,"x":20,"y":100},
{"p":8,"s":6,"x":0,"y":70},{"p":8,"s":6,"x":3,"y":72},{"p":8,"s":6,"x":6,"y":68},{"p":8,"s":6,"x":9,"y":70},{"p":8,"s":6,"x":12,"y":62},{"p":8,"s":6,"x":15,"y":58},{"p":8,"s":6,"x":18,"y":55},{"p":8,"s":6,"x":20,"y":56},
{"p":8,"s":7,"x":0,"y":95},{"p":8,"s":7,"x":4,"y":96},{"p":8,"s":7,"x":8,"y":97},{"p":8,"s":7,"x":12,"y":95},{"p":8,"s":7,"x":16,"y":97},{"p":8,"s":7,"x":20,"y":100},
{"p":9,"s":0,"x":0,"y":5},{"p":9,"s":0,"x":1,"y":8},{"p":9,"s":0,"x":2,"y":30},{"p":9,"s":0,"x":3,"y":65},{"p":9,"s":0,"x":4,"y":90},{"p":9,"s":0,"x":5,"y":98},{"p":9,"s":0,"x":7,"y":100},{"p":9,"s":0,"x":12,"y":97},{"p":9,"s":0,"x":16,"y":95},{"p":9,"s":0,"x":20,"y":92},
{"p":9,"s":1,"x":0,"y":3},{"p":9,"s":1,"x":1,"y":5},{"p":9,"s":1,"x":2,"y":20},{"p":9,"s":1,"x":3,"y":50},{"p":9,"s":1,"x":4,"y":80},{"p":9,"s":1,"x":5,"y":95},{"p":9,"s":1,"x":7,"y":99},{"p":9,"s":1,"x":10,"y":93},{"p":9,"s":1,"x":14,"y":88},{"p":9,"s":1,"x":20,"y":80},
{"p":9,"s":2,"x":0,"y":8},{"p":9,"s":2,"x":1.5,"y":12},{"p":9,"s":2,"x":2.5,"y":40},{"p":9,"s":2,"x":3.5,"y":60},{"p":9,"s":2,"x":5,"y":68},{"p":9,"s":2,"x":8,"y":72},{"p":9,"s":2,"x":12,"y":82},{"p":9,"s":2,"x":16,"y":92},{"p":9,"s":2,"x":20,"y":100},
{"p":9,"s":3,"x":0,"y":6},{"p":9,"s":3,"x":2,"y":15},{"p":9,"s":3,"x":3,"y":45},{"p":9,"s":3,"x":4,"y":70},{"p":9,"s":3,"x":6,"y":85},{"p":9,"s":3,"x":9,"y":88},{"p":9,"s":3,"x":13,"y":90},{"p":9,"s":3,"x":20,"y":95},
{"p":9,"s":4,"x":0,"y":10},{"p":9,"s":4,"x":3,"y":15},{"p":9,"s":4,"x":5,"y":28},{"p":9,"s":4,"x":7,"y":42},{"p":9,"s":4,"x":9,"y":55},{"p":9,"s":4,"x":12,"y":70},{"p":9,"s":4,"x":16,"y":84},{"p":9,"s":4,"x":20,"y":92},
{"p":9,"s":5,"x":0,"y":5},{"p":9,"s":5,"x":1.5,"y":12},{"p":9,"s":5,"x":3,"y":55},{"p":9,"s":5,"x":4.5,"y":78},{"p":9,"s":5,"x":6,"y":90},{"p":9,"s":5,"x":10,"y":95},{"p":9,"s":5,"x":15,"y":92},{"p":9,"s":5,"x":20,"y":88},
{"p":9,"s":6,"x":0,"y":4},{"p":9,"s":6,"x":2,"y":20},{"p":9,"s":6,"x":3,"y":40},{"p":9,"s":6,"x":4,"y":50},{"p":9,"s":6,"x":5,"y":55},{"p":9,"s":6,"x":8,"y":62},{"p":9,"s":6,"x":12,"y":68},{"p":9,"s":6,"x":16,"y":72},{"p":9,"s":6,"x":20,"y":75},
{"p":10,"s":0,"x":0,"y":100},{"p":10,"s":0,"x":20,"y":100},
{"p":10,"s":1,"x":0,"y":98},{"p":10,"s":1,"x":1,"y":85},{"p":10,"s":1,"x":2,"y":96},{"p":10,"s":1,"x":5,"y":95},{"p":10,"s":1,"x":8,"y":88},{"p":10,"s":1,"x":11,"y":82},{"p":10,"s":1,"x":14,"y":76},{"p":10,"s":1,"x":17,"y":72},{"p":10,"s":1,"x":20,"y":68},
{"p":10,"s":2,"x":0,"y":35},{"p":10,"s":2,"x":6,"y":36},{"p":10,"s":2,"x":9,"y":38},{"p":10,"s":2,"x":11,"y":55},{"p":10,"s":2,"x":13,"y":75},{"p":10,"s":2,"x":15,"y":88},{"p":10,"s":2,"x":18,"y":96},{"p":10,"s":2,"x":20,"y":100},
{"p":10,"s":3,"x":0,"y":20},{"p":10,"s":3,"x":3,"y":22},{"p":10,"s":3,"x":5,"y":30},{"p":10,"s":3,"x":7,"y":55},{"p":10,"s":3,"x":9,"y":75},{"p":10,"s":3,"x":12,"y":88},{"p":10,"s":3,"x":16,"y":95},{"p":10,"s":3,"x":20,"y":100},
{"p":10,"s":4,"x":0,"y":10},{"p":10,"s":4,"x":4,"y":12},{"p":10,"s":4,"x":6,"y":15},{"p":10,"s":4,"x":8,"y":25},{"p":10,"s":4,"x":10,"y":40},{"p":10,"s":4,"x":12,"y":58},{"p":10,"s":4,"x":15,"y":78},{"p":10,"s":4,"x":18,"y":93},{"p":10,"s":4,"x":20,"y":100},
{"p":10,"s":5,"x":0,"y":3},{"p":10,"s":5,"x":6,"y":4},{"p":10,"s":5,"x":9,"y":10},{"p":10,"s":5,"x":12,"y":25},{"p":10,"s":5,"x":15,"y":50},{"p":10,"s":5,"x":18,"y":80},{"p":10,"s":5,"x":20,"y":100},
{"p":10,"s":6,"x":0,"y":15},{"p":10,"s":6,"x":5,"y":16},{"p":10,"s":6,"x":8,"y":20},{"p":10,"s":6,"x":10,"y":45},{"p":10,"s":6,"x":12,"y":70},{"p":10,"s":6,"x":14,"y":85},{"p":10,"s":6,"x":20,"y":100},
{"p":10,"s":7,"x":0,"y":85},{"p":10,"s":7,"x":5,"y":86},{"p":10,"s":7,"x":10,"y":85},{"p":10,"s":7,"x":15,"y":90},{"p":10,"s":7,"x":20,"y":100},
{"p":11,"s":0,"x":0,"y":3},{"p":11,"s":0,"x":2,"y":12},{"p":11,"s":0,"x":5,"y":28},{"p":11,"s":0,"x":8,"y":45},{"p":11,"s":0,"x":11,"y":60},{"p":11,"s":0,"x":14,"y":74},{"p":11,"s":0,"x":17,"y":87},{"p":11,"s":0,"x":20,"y":100},
{"p":11,"s":1,"x":0,"y":5},{"p":11,"s":1,"x":2,"y":15},{"p":11,"s":1,"x":5,"y":35},{"p":11,"s":1,"x":8,"y":55},{"p":11,"s":1,"x":11,"y":68},{"p":11,"s":1,"x":14,"y":80},{"p":11,"s":1,"x":17,"y":90},{"p":11,"s":1,"x":20,"y":100},
{"p":11,"s":2,"x":0,"y":2},{"p":11,"s":2,"x":3,"y":13},{"p":11,"s":2,"x":6,"y":30},{"p":11,"s":2,"x":9,"y":46},{"p":11,"s":2,"x":12,"y":62},{"p":11,"s":2,"x":15,"y":76},{"p":11,"s":2,"x":18,"y":90},{"p":11,"s":2,"x":20,"y":100},
{"p":11,"s":3,"x":0,"y":4},{"p":11,"s":3,"x":2,"y":14},{"p":11,"s":3,"x":4,"y":28},{"p":11,"s":3,"x":6,"y":42},{"p":11,"s":3,"x":8,"y":52},{"p":11,"s":3,"x":11,"y":64},{"p":11,"s":3,"x":14,"y":76},{"p":11,"s":3,"x":17,"y":88},{"p":11,"s":3,"x":20,"y":100},
{"p":11,"s":4,"x":0,"y":6},{"p":11,"s":4,"x":3,"y":22},{"p":11,"s":4,"x":6,"y":40},{"p":11,"s":4,"x":9,"y":55},{"p":11,"s":4,"x":12,"y":68},{"p":11,"s":4,"x":15,"y":80},{"p":11,"s":4,"x":18,"y":92},{"p":11,"s":4,"x":20,"y":100},
{"p":12,"s":0,"x":0,"y":100},{"p":12,"s":0,"x":1,"y":80},{"p":12,"s":0,"x":3,"y":55},{"p":12,"s":0,"x":6,"y":35},{"p":12,"s":0,"x":9,"y":25},{"p":12,"s":0,"x":12,"y":20},{"p":12,"s":0,"x":16,"y":17},{"p":12,"s":0,"x":20,"y":15},
{"p":12,"s":1,"x":0,"y":5},{"p":12,"s":1,"x":3,"y":15},{"p":12,"s":1,"x":6,"y":40},{"p":12,"s":1,"x":9,"y":70},{"p":12,"s":1,"x":12,"y":88},{"p":12,"s":1,"x":15,"y":96},{"p":12,"s":1,"x":20,"y":100},
{"p":12,"s":2,"x":0,"y":8},{"p":12,"s":2,"x":6,"y":10},{"p":12,"s":2,"x":9,"y":25},{"p":12,"s":2,"x":12,"y":55},{"p":12,"s":2,"x":15,"y":80},{"p":12,"s":2,"x":18,"y":95},{"p":12,"s":2,"x":20,"y":100},
{"p":12,"s":3,"x":0,"y":100},{"p":12,"s":3,"x":1,"y":95},{"p":12,"s":3,"x":2,"y":60},{"p":12,"s":3,"x":3,"y":85},{"p":12,"s":3,"x":4,"y":95},{"p":12,"s":3,"x":5,"y":75},{"p":12,"s":3,"x":8,"y":45},{"p":12,"s":3,"x":12,"y":30},{"p":12,"s":3,"x":16,"y":28},{"p":12,"s":3,"x":20,"y":28},
{"p":12,"s":4,"x":0,"y":10},{"p":12,"s":4,"x":2,"y":20},{"p":12,"s":4,"x":4,"y":40},{"p":12,"s":4,"x":7,"y":70},{"p":12,"s":4,"x":10,"y":90},{"p":12,"s":4,"x":14,"y":98},{"p":12,"s":4,"x":20,"y":100},
{"p":12,"s":5,"x":0,"y":60},{"p":12,"s":5,"x":3,"y":50},{"p":12,"s":5,"x":6,"y":38},{"p":12,"s":5,"x":9,"y":28},{"p":12,"s":5,"x":12,"y":18},{"p":12,"s":5,"x":15,"y":10},{"p":12,"s":5,"x":18,"y":6},{"p":12,"s":5,"x":20,"y":5},
{"p":12,"s":6,"x":0,"y":20},{"p":12,"s":6,"x":8,"y":22},{"p":12,"s":6,"x":12,"y":30},{"p":12,"s":6,"x":15,"y":50},{"p":12,"s":6,"x":18,"y":75},{"p":12,"s":6,"x":20,"y":85},
{"p":12,"s":7,"x":0,"y":15},{"p":12,"s":7,"x":2,"y":60},{"p":12,"s":7,"x":4,"y":90},{"p":12,"s":7,"x":6,"y":100},{"p":12,"s":7,"x":10,"y":95},{"p":12,"s":7,"x":14,"y":80},{"p":12,"s":7,"x":17,"y":70},{"p":12,"s":7,"x":20,"y":70},
{"p":13,"s":0,"x":0,"y":90},{"p":13,"s":0,"x":3,"y":80},{"p":13,"s":0,"x":6,"y":70},{"p":13,"s":0,"x":9,"y":68},{"p":13,"s":0,"x":12,"y":72},{"p":13,"s":0,"x":15,"y":80},{"p":13,"s":0,"x":18,"y":90},{"p":13,"s":0,"x":20,"y":100},
{"p":13,"s":1,"x":0,"y":95},{"p":13,"s":1,"x":4,"y":88},{"p":13,"s":1,"x":8,"y":80},{"p":13,"s":1,"x":12,"y":82},{"p":13,"s":1,"x":16,"y":90},{"p":13,"s":1,"x":20,"y":100},
{"p":13,"s":2,"x":0,"y":85},{"p":13,"s":2,"x":3,"y":75},{"p":13,"s":2,"x":6,"y":65},{"p":13,"s":2,"x":9,"y":62},{"p":13,"s":2,"x":12,"y":68},{"p":13,"s":2,"x":15,"y":75},{"p":13,"s":2,"x":18,"y":88},{"p":13,"s":2,"x":20,"y":100},
{"p":13,"s":3,"x":0,"y":3},{"p":13,"s":3,"x":3,"y":3},{"p":13,"s":3,"x":5,"y":20},{"p":13,"s":3,"x":8,"y":45},{"p":13,"s":3,"x":10,"y":65},{"p":13,"s":3,"x":12,"y":85},{"p":13,"s":3,"x":14,"y":95},{"p":13,"s":3,"x":17,"y":98},{"p":13,"s":3,"x":20,"y":100},
{"p":13,"s":4,"x":0,"y":14},{"p":13,"s":4,"x":10,"y":14},{"p":13,"s":4,"x":14,"y":15},{"p":13,"s":4,"x":17,"y":16},{"p":13,"s":4,"x":20,"y":15},
{"p":13,"s":5,"x":0,"y":35},{"p":13,"s":5,"x":5,"y":33},{"p":13,"s":5,"x":10,"y":35},{"p":13,"s":5,"x":14,"y":36},{"p":13,"s":5,"x":16,"y":40},{"p":13,"s":5,"x":18,"y":60},{"p":13,"s":5,"x":19,"y":80},{"p":13,"s":5,"x":20,"y":100},
{"p":13,"s":6,"x":0,"y":92},{"p":13,"s":6,"x":6,"y":93},{"p":13,"s":6,"x":12,"y":92},{"p":13,"s":6,"x":13,"y":50},{"p":13,"s":6,"x":15,"y":46},{"p":13,"s":6,"x":20,"y":46},
{"p":13,"s":7,"x":0,"y":98},{"p":13,"s":7,"x":10,"y":97},{"p":13,"s":7,"x":16,"y":96},{"p":13,"s":7,"x":17,"y":85},{"p":13,"s":7,"x":18,"y":35},{"p":13,"s":7,"x":19,"y":24},{"p":13,"s":7,"x":20,"y":24},
{"p":14,"s":0,"x":0,"y":38},{"p":14,"s":0,"x":3,"y":55},{"p":14,"s":0,"x":6,"y":70},{"p":14,"s":0,"x":10,"y":83},{"p":14,"s":0,"x":14,"y":92},{"p":14,"s":0,"x":20,"y":100},
{"p":14,"s":1,"x":0,"y":20},{"p":14,"s":1,"x":3,"y":38},{"p":14,"s":1,"x":7,"y":58},{"p":14,"s":1,"x":11,"y":75},{"p":14,"s":1,"x":15,"y":88},{"p":14,"s":1,"x":20,"y":100},
{"p":14,"s":2,"x":0,"y":3},{"p":14,"s":2,"x":3,"y":10},{"p":14,"s":2,"x":6,"y":25},{"p":14,"s":2,"x":9,"y":42},{"p":14,"s":2,"x":12,"y":60},{"p":14,"s":2,"x":15,"y":76},{"p":14,"s":2,"x":18,"y":90},{"p":14,"s":2,"x":20,"y":100},
{"p":14,"s":3,"x":0,"y":2},{"p":14,"s":3,"x":3,"y":5},{"p":14,"s":3,"x":6,"y":12},{"p":14,"s":3,"x":9,"y":30},{"p":14,"s":3,"x":12,"y":52},{"p":14,"s":3,"x":15,"y":72},{"p":14,"s":3,"x":18,"y":90},{"p":14,"s":3,"x":20,"y":100},
{"p":14,"s":4,"x":0,"y":8},{"p":14,"s":4,"x":2,"y":20},{"p":14,"s":4,"x":5,"y":40},{"p":14,"s":4,"x":9,"y":60},{"p":14,"s":4,"x":13,"y":78},{"p":14,"s":4,"x":17,"y":92},{"p":14,"s":4,"x":20,"y":100},
{"p":14,"s":5,"x":0,"y":5},{"p":14,"s":5,"x":4,"y":8},{"p":14,"s":5,"x":7,"y":10},{"p":14,"s":5,"x":10,"y":22},{"p":14,"s":5,"x":13,"y":45},{"p":14,"s":5,"x":16,"y":70},{"p":14,"s":5,"x":20,"y":100},
{"p":14,"s":6,"x":0,"y":5},{"p":14,"s":6,"x":3,"y":22},{"p":14,"s":6,"x":6,"y":40},{"p":14,"s":6,"x":10,"y":58},{"p":14,"s":6,"x":14,"y":75},{"p":14,"s":6,"x":20,"y":100},
{"p":15,"s":0,"x":0,"y":92},{"p":15,"s":0,"x":5,"y":93},{"p":15,"s":0,"x":10,"y":94},{"p":15,"s":0,"x":15,"y":96},{"p":15,"s":0,"x":20,"y":100},
{"p":15,"s":1,"x":0,"y":65},{"p":15,"s":1,"x":5,"y":75},{"p":15,"s":1,"x":10,"y":84},{"p":15,"s":1,"x":15,"y":92},{"p":15,"s":1,"x":20,"y":100},
{"p":15,"s":2,"x":0,"y":55},{"p":15,"s":2,"x":4,"y":60},{"p":15,"s":2,"x":8,"y":68},{"p":15,"s":2,"x":12,"y":75},{"p":15,"s":2,"x":16,"y":85},{"p":15,"s":2,"x":20,"y":100},
{"p":15,"s":3,"x":0,"y":5},{"p":15,"s":3,"x":2,"y":20},{"p":15,"s":3,"x":4,"y":30},{"p":15,"s":3,"x":7,"y":45},{"p":15,"s":3,"x":10,"y":52},{"p":15,"s":3,"x":13,"y":60},{"p":15,"s":3,"x":16,"y":65},{"p":15,"s":3,"x":17,"y":90},{"p":15,"s":3,"x":20,"y":100},
{"p":15,"s":4,"x":0,"y":25},{"p":15,"s":4,"x":3,"y":30},{"p":15,"s":4,"x":6,"y":40},{"p":15,"s":4,"x":9,"y":45},{"p":15,"s":4,"x":12,"y":48},{"p":15,"s":4,"x":15,"y":52},{"p":15,"s":4,"x":17,"y":75},{"p":15,"s":4,"x":20,"y":100},
{"p":15,"s":5,"x":0,"y":12},{"p":15,"s":5,"x":3,"y":25},{"p":15,"s":5,"x":6,"y":35},{"p":15,"s":5,"x":10,"y":45},{"p":15,"s":5,"x":14,"y":52},{"p":15,"s":5,"x":17,"y":60},{"p":15,"s":5,"x":20,"y":100},
{"p":15,"s":6,"x":0,"y":40},{"p":15,"s":6,"x":4,"y":50},{"p":15,"s":6,"x":8,"y":58},{"p":15,"s":6,"x":12,"y":65},{"p":15,"s":6,"x":16,"y":70},{"p":15,"s":6,"x":18,"y":90},{"p":15,"s":6,"x":20,"y":100},
{"p":16,"s":0,"x":0,"y":90},{"p":16,"s":0,"x":1,"y":98},{"p":16,"s":0,"x":2,"y":100},{"p":16,"s":0,"x":3,"y":90},{"p":16,"s":0,"x":5,"y":60},{"p":16,"s":0,"x":7,"y":35},{"p":16,"s":0,"x":9,"y":25},{"p":16,"s":0,"x":12,"y":20},{"p":16,"s":0,"x":16,"y":18},{"p":16,"s":0,"x":20,"y":18},
{"p":16,"s":1,"x":0,"y":40},{"p":16,"s":1,"x":1,"y":80},{"p":16,"s":1,"x":2,"y":100},{"p":16,"s":1,"x":3,"y":98},{"p":16,"s":1,"x":5,"y":70},{"p":16,"s":1,"x":7,"y":52},{"p":16,"s":1,"x":10,"y":45},{"p":16,"s":1,"x":14,"y":44},{"p":16,"s":1,"x":20,"y":45},
{"p":16,"s":2,"x":0,"y":60},{"p":16,"s":2,"x":4,"y":70},{"p":16,"s":2,"x":8,"y":80},{"p":16,"s":2,"x":12,"y":88},{"p":16,"s":2,"x":16,"y":95},{"p":16,"s":2,"x":20,"y":100},
{"p":16,"s":3,"x":0,"y":10},{"p":16,"s":3,"x":1,"y":30},{"p":16,"s":3,"x":2,"y":50},{"p":16,"s":3,"x":4,"y":70},{"p":16,"s":3,"x":6,"y":75},{"p":16,"s":3,"x":10,"y":75},{"p":16,"s":3,"x":15,"y":74},{"p":16,"s":3,"x":20,"y":75},
{"p":16,"s":4,"x":0,"y":62},{"p":16,"s":4,"x":5,"y":62},{"p":16,"s":4,"x":10,"y":63},{"p":16,"s":4,"x":15,"y":62},{"p":16,"s":4,"x":20,"y":62},
{"p":16,"s":5,"x":0,"y":5},{"p":16,"s":5,"x":2,"y":20},{"p":16,"s":5,"x":4,"y":50},{"p":16,"s":5,"x":6,"y":62},{"p":16,"s":5,"x":8,"y":68},{"p":16,"s":5,"x":12,"y":70},{"p":16,"s":5,"x":16,"y":70},{"p":16,"s":5,"x":20,"y":70},
{"p":16,"s":6,"x":0,"y":30},{"p":16,"s":6,"x":3,"y":50},{"p":16,"s":6,"x":6,"y":60},{"p":16,"s":6,"x":10,"y":58},{"p":16,"s":6,"x":14,"y":55},{"p":16,"s":6,"x":20,"y":55},
{"p":16,"s":7,"x":0,"y":95},{"p":16,"s":7,"x":5,"y":94},{"p":16,"s":7,"x":10,"y":96},{"p":16,"s":7,"x":15,"y":98},{"p":16,"s":7,"x":20,"y":100},
{"p":17,"s":0,"x":0,"y":100},{"p":17,"s":0,"x":20,"y":100},
{"p":17,"s":1,"x":0,"y":78},{"p":17,"s":1,"x":2,"y":79},{"p":17,"s":1,"x":4,"y":80},{"p":17,"s":1,"x":5,"y":88},{"p":17,"s":1,"x":8,"y":92},{"p":17,"s":1,"x":12,"y":95},{"p":17,"s":1,"x":20,"y":100},
{"p":17,"s":2,"x":0,"y":3},{"p":17,"s":2,"x":7.5,"y":3},{"p":17,"s":2,"x":8,"y":15},{"p":17,"s":2,"x":9,"y":50},{"p":17,"s":2,"x":10,"y":70},{"p":17,"s":2,"x":12,"y":85},{"p":17,"s":2,"x":15,"y":95},{"p":17,"s":2,"x":20,"y":100},
{"p":17,"s":3,"x":0,"y":30},{"p":17,"s":3,"x":3,"y":32},{"p":17,"s":3,"x":5,"y":45},{"p":17,"s":3,"x":7,"y":70},{"p":17,"s":3,"x":9,"y":85},{"p":17,"s":3,"x":12,"y":93},{"p":17,"s":3,"x":20,"y":100},
{"p":17,"s":4,"x":0,"y":20},{"p":17,"s":4,"x":4,"y":22},{"p":17,"s":4,"x":6,"y":30},{"p":17,"s":4,"x":8,"y":55},{"p":17,"s":4,"x":10,"y":75},{"p":17,"s":4,"x":13,"y":88},{"p":17,"s":4,"x":20,"y":98},
{"p":17,"s":5,"x":0,"y":10},{"p":17,"s":5,"x":4,"y":12},{"p":17,"s":5,"x":6,"y":25},{"p":17,"s":5,"x":8,"y":45},{"p":17,"s":5,"x":10,"y":70},{"p":17,"s":5,"x":12,"y":82},{"p":17,"s":5,"x":16,"y":90},{"p":17,"s":5,"x":20,"y":93},
{"p":17,"s":6,"x":0,"y":35},{"p":17,"s":6,"x":3,"y":40},{"p":17,"s":6,"x":6,"y":50},{"p":17,"s":6,"x":9,"y":58},{"p":17,"s":6,"x":12,"y":65},{"p":17,"s":6,"x":15,"y":72},{"p":17,"s":6,"x":18,"y":80},{"p":17,"s":6,"x":20,"y":85},
{"p":17,"s":7,"x":0,"y":5},{"p":17,"s":7,"x":5,"y":8},{"p":17,"s":7,"x":8,"y":30},{"p":17,"s":7,"x":10,"y":60},{"p":17,"s":7,"x":12,"y":78},{"p":17,"s":7,"x":15,"y":90},{"p":17,"s":7,"x":18,"y":95},{"p":17,"s":7,"x":20,"y":90},
{"p":18,"s":0,"x":0,"y":100},{"p":18,"s":0,"x":6,"y":98},{"p":18,"s":0,"x":10,"y":96},{"p":18,"s":0,"x":14,"y":97},{"p":18,"s":0,"x":17,"y":98},{"p":18,"s":0,"x":20,"y":100},
{"p":18,"s":1,"x":0,"y":78},{"p":18,"s":1,"x":3,"y":72},{"p":18,"s":1,"x":6,"y":72},{"p":18,"s":1,"x":9,"y":75},{"p":18,"s":1,"x":12,"y":82},{"p":18,"s":1,"x":15,"y":90},{"p":18,"s":1,"x":18,"y":96},{"p":18,"s":1,"x":20,"y":100},
{"p":18,"s":2,"x":0,"y":3},{"p":18,"s":2,"x":7,"y":3},{"p":18,"s":2,"x":10,"y":25},{"p":18,"s":2,"x":13,"y":50},{"p":18,"s":2,"x":16,"y":75},{"p":18,"s":2,"x":18,"y":90},{"p":18,"s":2,"x":20,"y":100},
{"p":18,"s":3,"x":0,"y":5},{"p":18,"s":3,"x":2,"y":5},{"p":18,"s":3,"x":4,"y":25},{"p":18,"s":3,"x":6,"y":50},{"p":18,"s":3,"x":8,"y":65},{"p":18,"s":3,"x":10,"y":75},{"p":18,"s":3,"x":14,"y":88},{"p":18,"s":3,"x":20,"y":100},
{"p":18,"s":4,"x":0,"y":15},{"p":18,"s":4,"x":4,"y":16},{"p":18,"s":4,"x":6,"y":20},{"p":18,"s":4,"x":8,"y":25},{"p":18,"s":4,"x":9,"y":40},{"p":18,"s":4,"x":11,"y":45},{"p":18,"s":4,"x":12,"y":60},{"p":18,"s":4,"x":14,"y":70},{"p":18,"s":4,"x":16,"y":80},{"p":18,"s":4,"x":20,"y":100},
{"p":18,"s":5,"x":0,"y":60},{"p":18,"s":5,"x":4,"y":62},{"p":18,"s":5,"x":8,"y":65},{"p":18,"s":5,"x":12,"y":72},{"p":18,"s":5,"x":16,"y":80},{"p":18,"s":5,"x":20,"y":85},
{"p":18,"s":6,"x":0,"y":10},{"p":18,"s":6,"x":3,"y":12},{"p":18,"s":6,"x":6,"y":30},{"p":18,"s":6,"x":9,"y":55},{"p":18,"s":6,"x":12,"y":75},{"p":18,"s":6,"x":15,"y":85},{"p":18,"s":6,"x":18,"y":92},{"p":18,"s":6,"x":20,"y":96},
{"p":18,"s":7,"x":0,"y":97},{"p":18,"s":7,"x":5,"y":96},{"p":18,"s":7,"x":10,"y":92},{"p":18,"s":7,"x":15,"y":85},{"p":18,"s":7,"x":18,"y":78},{"p":18,"s":7,"x":20,"y":70},
{"p":19,"s":0,"x":0,"y":3},{"p":19,"s":0,"x":2,"y":6},{"p":19,"s":0,"x":4,"y":18},{"p":19,"s":0,"x":6,"y":35},{"p":19,"s":0,"x":8,"y":52},{"p":19,"s":0,"x":10,"y":68},{"p":19,"s":0,"x":12,"y":80},{"p":19,"s":0,"x":15,"y":92},{"p":19,"s":0,"x":20,"y":100},
{"p":19,"s":1,"x":0,"y":5},{"p":19,"s":1,"x":2,"y":8},{"p":19,"s":1,"x":4,"y":22},{"p":19,"s":1,"x":6,"y":42},{"p":19,"s":1,"x":8,"y":60},{"p":19,"s":1,"x":10,"y":75},{"p":19,"s":1,"x":12,"y":86},{"p":19,"s":1,"x":15,"y":95},{"p":19,"s":1,"x":20,"y":100},
{"p":19,"s":2,"x":0,"y":2},{"p":19,"s":2,"x":2,"y":5},{"p":19,"s":2,"x":4,"y":12},{"p":19,"s":2,"x":6,"y":25},{"p":19,"s":2,"x":8,"y":42},{"p":19,"s":2,"x":10,"y":58},{"p":19,"s":2,"x":12,"y":70},{"p":19,"s":2,"x":15,"y":85},{"p":19,"s":2,"x":20,"y":100},
{"p":19,"s":3,"x":0,"y":12},{"p":19,"s":3,"x":2,"y":12},{"p":19,"s":3,"x":4,"y":18},{"p":19,"s":3,"x":6,"y":30},{"p":19,"s":3,"x":8,"y":45},{"p":19,"s":3,"x":10,"y":60},{"p":19,"s":3,"x":13,"y":78},{"p":19,"s":3,"x":16,"y":90},{"p":19,"s":3,"x":20,"y":100},
{"p":19,"s":4,"x":0,"y":4},{"p":19,"s":4,"x":2,"y":7},{"p":19,"s":4,"x":4,"y":20},{"p":19,"s":4,"x":6,"y":38},{"p":19,"s":4,"x":8,"y":56},{"p":19,"s":4,"x":10,"y":72},{"p":19,"s":4,"x":12,"y":84},{"p":19,"s":4,"x":16,"y":96},{"p":19,"s":4,"x":20,"y":100},
{"p":19,"s":5,"x":0,"y":8},{"p":19,"s":5,"x":3,"y":10},{"p":19,"s":5,"x":5,"y":15},{"p":19,"s":5,"x":8,"y":30},{"p":19,"s":5,"x":11,"y":50},{"p":19,"s":5,"x":14,"y":70},{"p":19,"s":5,"x":17,"y":88},{"p":19,"s":5,"x":20,"y":100},
{"p":20,"s":0,"x":0,"y":100},{"p":20,"s":0,"x":20,"y":100},
{"p":20,"s":1,"x":0,"y":47},{"p":20,"s":1,"x":15,"y":47},{"p":20,"s":1,"x":16,"y":60},{"p":20,"s":1,"x":17,"y":85},{"p":20,"s":1,"x":18.5,"y":97},{"p":20,"s":1,"x":20,"y":100},
{"p":20,"s":2,"x":0,"y":95},{"p":20,"s":2,"x":5,"y":96},{"p":20,"s":2,"x":10,"y":97},{"p":20,"s":2,"x":15,"y":98},{"p":20,"s":2,"x":20,"y":100},
{"p":20,"s":3,"x":0,"y":30},{"p":20,"s":3,"x":1,"y":60},{"p":20,"s":3,"x":2,"y":78},{"p":20,"s":3,"x":3,"y":72},{"p":20,"s":3,"x":5,"y":70},{"p":20,"s":3,"x":7,"y":72},{"p":20,"s":3,"x":9,"y":75},{"p":20,"s":3,"x":11,"y":80},{"p":20,"s":3,"x":14,"y":85},{"p":20,"s":3,"x":17,"y":90},{"p":20,"s":3,"x":20,"y":100},
{"p":20,"s":4,"x":0,"y":20},{"p":20,"s":4,"x":3,"y":25},{"p":20,"s":4,"x":6,"y":35},{"p":20,"s":4,"x":9,"y":50},{"p":20,"s":4,"x":12,"y":65},{"p":20,"s":4,"x":14,"y":72},{"p":20,"s":4,"x":17,"y":85},{"p":20,"s":4,"x":20,"y":100},
{"p":20,"s":5,"x":0,"y":3},{"p":20,"s":5,"x":4,"y":5},{"p":20,"s":5,"x":8,"y":10},{"p":20,"s":5,"x":11,"y":18},{"p":20,"s":5,"x":13,"y":25},{"p":20,"s":5,"x":15,"y":35},{"p":20,"s":5,"x":17,"y":55},{"p":20,"s":5,"x":18.5,"y":80},{"p":20,"s":5,"x":20,"y":100},
{"p":20,"s":6,"x":0,"y":25},{"p":20,"s":6,"x":3,"y":30},{"p":20,"s":6,"x":6,"y":32},{"p":20,"s":6,"x":8,"y":45},{"p":20,"s":6,"x":10,"y":52},{"p":20,"s":6,"x":13,"y":58},{"p":20,"s":6,"x":16,"y":75},{"p":20,"s":6,"x":20,"y":95},
{"p":20,"s":7,"x":0,"y":85},{"p":20,"s":7,"x":5,"y":88},{"p":20,"s":7,"x":10,"y":90},{"p":20,"s":7,"x":15,"y":92},{"p":20,"s":7,"x":20,"y":97},
{"p":21,"s":0,"x":0,"y":96},{"p":21,"s":0,"x":5,"y":95},{"p":21,"s":0,"x":10,"y":96},{"p":21,"s":0,"x":15,"y":98},{"p":21,"s":0,"x":20,"y":100},
{"p":21,"s":1,"x":0,"y":60},{"p":21,"s":1,"x":4,"y":75},{"p":21,"s":1,"x":8,"y":85},{"p":21,"s":1,"x":12,"y":92},{"p":21,"s":1,"x":16,"y":96},{"p":21,"s":1,"x":20,"y":100},
{"p":21,"s":2,"x":0,"y":30},{"p":21,"s":2,"x":3,"y":38},{"p":21,"s":2,"x":6,"y":50},{"p":21,"s":2,"x":9,"y":65},{"p":21,"s":2,"x":12,"y":78},{"p":21,"s":2,"x":15,"y":88},{"p":21,"s":2,"x":20,"y":100},
{"p":21,"s":3,"x":0,"y":5},{"p":21,"s":3,"x":3,"y":10},{"p":21,"s":3,"x":5,"y":30},{"p":21,"s":3,"x":7,"y":50},{"p":21,"s":3,"x":9,"y":65},{"p":21,"s":3,"x":12,"y":80},{"p":21,"s":3,"x":16,"y":92},{"p":21,"s":3,"x":20,"y":100},
{"p":21,"s":4,"x":0,"y":20},{"p":21,"s":4,"x":5,"y":22},{"p":21,"s":4,"x":8,"y":30},{"p":21,"s":4,"x":11,"y":45},{"p":21,"s":4,"x":14,"y":60},{"p":21,"s":4,"x":17,"y":78},{"p":21,"s":4,"x":20,"y":95},
{"p":21,"s":5,"x":0,"y":10},{"p":21,"s":5,"x":4,"y":12},{"p":21,"s":5,"x":7,"y":15},{"p":21,"s":5,"x":10,"y":35},{"p":21,"s":5,"x":13,"y":58},{"p":21,"s":5,"x":16,"y":78},{"p":21,"s":5,"x":20,"y":100},
{"p":21,"s":6,"x":0,"y":45},{"p":21,"s":6,"x":3,"y":48},{"p":21,"s":6,"x":6,"y":55},{"p":21,"s":6,"x":9,"y":62},{"p":21,"s":6,"x":12,"y":75},{"p":21,"s":6,"x":15,"y":88},{"p":21,"s":6,"x":20,"y":100},
{"p":21,"s":7,"x":0,"y":15},{"p":21,"s":7,"x":3,"y":18},{"p":21,"s":7,"x":6,"y":20},{"p":21,"s":7,"x":10,"y":28},{"p":21,"s":7,"x":14,"y":50},{"p":21,"s":7,"x":17,"y":75},{"p":21,"s":7,"x":20,"y":95},
{"p":22,"s":0,"x":0,"y":100},{"p":22,"s":0,"x":10,"y":100},{"p":22,"s":0,"x":20,"y":100},
{"p":22,"s":1,"x":0,"y":50},{"p":22,"s":1,"x":1,"y":42},{"p":22,"s":1,"x":2,"y":55},{"p":22,"s":1,"x":3,"y":45},{"p":22,"s":1,"x":4,"y":52},{"p":22,"s":1,"x":6,"y":65},{"p":22,"s":1,"x":9,"y":80},{"p":22,"s":1,"x":12,"y":90},{"p":22,"s":1,"x":16,"y":95},{"p":22,"s":1,"x":20,"y":100},
{"p":22,"s":2,"x":0,"y":5},{"p":22,"s":2,"x":3,"y":6},{"p":22,"s":2,"x":5,"y":20},{"p":22,"s":2,"x":7,"y":45},{"p":22,"s":2,"x":9,"y":65},{"p":22,"s":2,"x":11,"y":78},{"p":22,"s":2,"x":14,"y":88},{"p":22,"s":2,"x":17,"y":95},{"p":22,"s":2,"x":20,"y":100},
{"p":22,"s":3,"x":0,"y":70},{"p":22,"s":3,"x":3,"y":72},{"p":22,"s":3,"x":6,"y":75},{"p":22,"s":3,"x":9,"y":82},{"p":22,"s":3,"x":12,"y":90},{"p":22,"s":3,"x":16,"y":96},{"p":22,"s":3,"x":20,"y":100},
{"p":22,"s":4,"x":0,"y":15},{"p":22,"s":4,"x":5,"y":16},{"p":22,"s":4,"x":9,"y":18},{"p":22,"s":4,"x":12,"y":22},{"p":22,"s":4,"x":14,"y":35},{"p":22,"s":4,"x":16,"y":60},{"p":22,"s":4,"x":18,"y":85},{"p":22,"s":4,"x":20,"y":100},
{"p":22,"s":5,"x":0,"y":25},{"p":22,"s":5,"x":6,"y":28},{"p":22,"s":5,"x":9,"y":40},{"p":22,"s":5,"x":11,"y":60},{"p":22,"s":5,"x":13,"y":78},{"p":22,"s":5,"x":16,"y":90},{"p":22,"s":5,"x":20,"y":98},
{"p":22,"s":6,"x":0,"y":8},{"p":22,"s":6,"x":6,"y":10},{"p":22,"s":6,"x":10,"y":12},{"p":22,"s":6,"x":13,"y":15},{"p":22,"s":6,"x":15,"y":25},{"p":22,"s":6,"x":17,"y":55},{"p":22,"s":6,"x":19,"y":85},{"p":22,"s":6,"x":20,"y":95},
{"p":22,"s":7,"x":0,"y":35},{"p":22,"s":7,"x":3,"y":32},{"p":22,"s":7,"x":6,"y":35},{"p":22,"s":7,"x":9,"y":45},{"p":22,"s":7,"x":12,"y":60},{"p":22,"s":7,"x":15,"y":75},{"p":22,"s":7,"x":18,"y":88},{"p":22,"s":7,"x":20,"y":100},
{"p":23,"s":0,"x":0,"y":98},{"p":23,"s":0,"x":5,"y":98},{"p":23,"s":0,"x":10,"y":99},{"p":23,"s":0,"x":15,"y":99},{"p":23,"s":0,"x":20,"y":100},
{"p":23,"s":1,"x":0,"y":85},{"p":23,"s":1,"x":4,"y":82},{"p":23,"s":1,"x":8,"y":85},{"p":23,"s":1,"x":12,"y":90},{"p":23,"s":1,"x":16,"y":94},{"p":23,"s":1,"x":20,"y":98},
{"p":23,"s":2,"x":0,"y":75},{"p":23,"s":2,"x":3,"y":72},{"p":23,"s":2,"x":6,"y":75},{"p":23,"s":2,"x":10,"y":82},{"p":23,"s":2,"x":14,"y":88},{"p":23,"s":2,"x":20,"y":95},
{"p":23,"s":3,"x":0,"y":5},{"p":23,"s":3,"x":2,"y":5},{"p":23,"s":3,"x":4,"y":15},{"p":23,"s":3,"x":6,"y":35},{"p":23,"s":3,"x":8,"y":55},{"p":23,"s":3,"x":10,"y":70},{"p":23,"s":3,"x":13,"y":85},{"p":23,"s":3,"x":16,"y":92},{"p":23,"s":3,"x":20,"y":100},
{"p":23,"s":4,"x":0,"y":30},{"p":23,"s":4,"x":4,"y":38},{"p":23,"s":4,"x":8,"y":48},{"p":23,"s":4,"x":12,"y":60},{"p":23,"s":4,"x":16,"y":75},{"p":23,"s":4,"x":20,"y":90},
{"p":23,"s":5,"x":0,"y":18},{"p":23,"s":5,"x":3,"y":20},{"p":23,"s":5,"x":5,"y":25},{"p":23,"s":5,"x":7,"y":45},{"p":23,"s":5,"x":9,"y":65},{"p":23,"s":5,"x":11,"y":80},{"p":23,"s":5,"x":14,"y":90},{"p":23,"s":5,"x":20,"y":100},
{"p":23,"s":6,"x":0,"y":10},{"p":23,"s":6,"x":4,"y":12},{"p":23,"s":6,"x":6,"y":20},{"p":23,"s":6,"x":8,"y":30},{"p":23,"s":6,"x":11,"y":50},{"p":23,"s":6,"x":14,"y":70},{"p":23,"s":6,"x":17,"y":85},{"p":23,"s":6,"x":20,"y":100},
{"p":23,"s":7,"x":0,"y":92},{"p":23,"s":7,"x":5,"y":93},{"p":23,"s":7,"x":10,"y":95},{"p":23,"s":7,"x":15,"y":96},{"p":23,"s":7,"x":20,"y":100},
{"p":24,"s":0,"x":0,"y":70},{"p":24,"s":0,"x":4,"y":80},{"p":24,"s":0,"x":8,"y":87},{"p":24,"s":0,"x":12,"y":92},{"p":24,"s":0,"x":16,"y":96},{"p":24,"s":0,"x":20,"y":100},
{"p":24,"s":1,"x":0,"y":60},{"p":24,"s":1,"x":4,"y":65},{"p":24,"s":1,"x":8,"y":70},{"p":24,"s":1,"x":12,"y":78},{"p":24,"s":1,"x":16,"y":88},{"p":24,"s":1,"x":20,"y":100},
{"p":24,"s":2,"x":0,"y":45},{"p":24,"s":2,"x":4,"y":50},{"p":24,"s":2,"x":8,"y":55},{"p":24,"s":2,"x":12,"y":65},{"p":24,"s":2,"x":16,"y":80},{"p":24,"s":2,"x":20,"y":100},
{"p":24,"s":3,"x":0,"y":3},{"p":24,"s":3,"x":3,"y":8},{"p":24,"s":3,"x":6,"y":20},{"p":24,"s":3,"x":9,"y":40},{"p":24,"s":3,"x":12,"y":58},{"p":24,"s":3,"x":15,"y":75},{"p":24,"s":3,"x":18,"y":90},{"p":24,"s":3,"x":20,"y":100},
{"p":24,"s":4,"x":0,"y":8},{"p":24,"s":4,"x":4,"y":12},{"p":24,"s":4,"x":7,"y":25},{"p":24,"s":4,"x":10,"y":45},{"p":24,"s":4,"x":13,"y":62},{"p":24,"s":4,"x":16,"y":80},{"p":24,"s":4,"x":20,"y":100},
{"p":24,"s":5,"x":0,"y":5},{"p":24,"s":5,"x":5,"y":8},{"p":24,"s":5,"x":8,"y":15},{"p":24,"s":5,"x":11,"y":28},{"p":24,"s":5,"x":14,"y":45},{"p":24,"s":5,"x":17,"y":70},{"p":24,"s":5,"x":20,"y":100},
{"p":24,"s":6,"x":0,"y":55},{"p":24,"s":6,"x":4,"y":58},{"p":24,"s":6,"x":8,"y":58},{"p":24,"s":6,"x":12,"y":62},{"p":24,"s":6,"x":16,"y":75},{"p":24,"s":6,"x":20,"y":100},
{"p":24,"s":7,"x":0,"y":12},{"p":24,"s":7,"x":3,"y":15},{"p":24,"s":7,"x":6,"y":30},{"p":24,"s":7,"x":9,"y":50},{"p":24,"s":7,"x":12,"y":68},{"p":24,"s":7,"x":15,"y":82},{"p":24,"s":7,"x":20,"y":100},
{"p":25,"s":0,"x":0,"y":5},{"p":25,"s":0,"x":1,"y":60},{"p":25,"s":0,"x":2,"y":100},{"p":25,"s":0,"x":3,"y":50},{"p":25,"s":0,"x":4,"y":10},{"p":25,"s":0,"x":5,"y":50},{"p":25,"s":0,"x":6,"y":100},{"p":25,"s":0,"x":7,"y":40},{"p":25,"s":0,"x":8,"y":5},{"p":25,"s":0,"x":9,"y":30},{"p":25,"s":0,"x":10,"y":80},{"p":25,"s":0,"x":11,"y":100},{"p":25,"s":0,"x":12,"y":60},{"p":25,"s":0,"x":13,"y":10},{"p":25,"s":0,"x":14,"y":60},{"p":25,"s":0,"x":15,"y":100},{"p":25,"s":0,"x":16,"y":40},{"p":25,"s":0,"x":17,"y":5},{"p":25,"s":0,"x":18,"y":50},{"p":25,"s":0,"x":19,"y":100},{"p":25,"s":0,"x":20,"y":60},
{"p":25,"s":1,"x":0,"y":72},{"p":25,"s":1,"x":20,"y":72},
{"p":25,"s":2,"x":0,"y":15},{"p":25,"s":2,"x":2,"y":20},{"p":25,"s":2,"x":4,"y":25},{"p":25,"s":2,"x":5,"y":80},{"p":25,"s":2,"x":6,"y":100},{"p":25,"s":2,"x":7,"y":60},{"p":25,"s":2,"x":8,"y":30},{"p":25,"s":2,"x":10,"y":25},{"p":25,"s":2,"x":12,"y":30},{"p":25,"s":2,"x":14,"y":20},{"p":25,"s":2,"x":16,"y":30},{"p":25,"s":2,"x":18,"y":25},{"p":25,"s":2,"x":20,"y":30},
{"p":25,"s":3,"x":0,"y":43},{"p":25,"s":3,"x":10,"y":44},{"p":25,"s":3,"x":20,"y":45},
{"p":25,"s":4,"x":0,"y":8},{"p":25,"s":4,"x":2,"y":15},{"p":25,"s":4,"x":4,"y":10},{"p":25,"s":4,"x":6,"y":18},{"p":25,"s":4,"x":8,"y":12},{"p":25,"s":4,"x":10,"y":20},{"p":25,"s":4,"x":12,"y":10},{"p":25,"s":4,"x":14,"y":22},{"p":25,"s":4,"x":16,"y":8},{"p":25,"s":4,"x":18,"y":18},{"p":25,"s":4,"x":20,"y":12},
{"p":25,"s":5,"x":0,"y":95},{"p":25,"s":5,"x":1,"y":70},{"p":25,"s":5,"x":2,"y":30},{"p":25,"s":5,"x":3,"y":60},{"p":25,"s":5,"x":4,"y":95},{"p":25,"s":5,"x":5,"y":60},{"p":25,"s":5,"x":6,"y":20},{"p":25,"s":5,"x":7,"y":50},{"p":25,"s":5,"x":8,"y":90},{"p":25,"s":5,"x":9,"y":100},{"p":25,"s":5,"x":10,"y":55},{"p":25,"s":5,"x":11,"y":15},{"p":25,"s":5,"x":12,"y":40},{"p":25,"s":5,"x":13,"y":90},{"p":25,"s":5,"x":14,"y":100},{"p":25,"s":5,"x":15,"y":50},{"p":25,"s":5,"x":16,"y":10},{"p":25,"s":5,"x":17,"y":60},{"p":25,"s":5,"x":18,"y":100},{"p":25,"s":5,"x":19,"y":70},{"p":25,"s":5,"x":20,"y":20},
{"p":25,"s":6,"x":0,"y":60},{"p":25,"s":6,"x":4,"y":50},{"p":25,"s":6,"x":8,"y":48},{"p":25,"s":6,"x":12,"y":55},{"p":25,"s":6,"x":16,"y":48},{"p":25,"s":6,"x":20,"y":55},
{"p":25,"s":7,"x":0,"y":30},{"p":25,"s":7,"x":1,"y":20},{"p":25,"s":7,"x":2,"y":5},{"p":25,"s":7,"x":3,"y":25},{"p":25,"s":7,"x":4,"y":35},{"p":25,"s":7,"x":5,"y":20},{"p":25,"s":7,"x":6,"y":5},{"p":25,"s":7,"x":7,"y":10},{"p":25,"s":7,"x":8,"y":30},{"p":25,"s":7,"x":9,"y":45},{"p":25,"s":7,"x":10,"y":20},{"p":25,"s":7,"x":11,"y":5},{"p":25,"s":7,"x":12,"y":20},{"p":25,"s":7,"x":13,"y":40},{"p":25,"s":7,"x":14,"y":30},{"p":25,"s":7,"x":15,"y":10},{"p":25,"s":7,"x":16,"y":5},{"p":25,"s":7,"x":17,"y":25},{"p":25,"s":7,"x":18,"y":40},{"p":25,"s":7,"x":19,"y":15},{"p":25,"s":7,"x":20,"y":5},
{"p":26,"s":0,"x":0,"y":100},{"p":26,"s":0,"x":2,"y":50},{"p":26,"s":0,"x":4,"y":8},{"p":26,"s":0,"x":6,"y":50},{"p":26,"s":0,"x":8,"y":100},{"p":26,"s":0,"x":10,"y":50},{"p":26,"s":0,"x":12,"y":8},{"p":26,"s":0,"x":14,"y":50},{"p":26,"s":0,"x":16,"y":100},{"p":26,"s":0,"x":18,"y":50},{"p":26,"s":0,"x":20,"y":8},
{"p":26,"s":1,"x":0,"y":5},{"p":26,"s":1,"x":2,"y":40},{"p":26,"s":1,"x":4,"y":90},{"p":26,"s":1,"x":5,"y":100},{"p":26,"s":1,"x":6,"y":90},{"p":26,"s":1,"x":8,"y":40},{"p":26,"s":1,"x":10,"y":5},{"p":26,"s":1,"x":12,"y":40},{"p":26,"s":1,"x":14,"y":90},{"p":26,"s":1,"x":15,"y":100},{"p":26,"s":1,"x":16,"y":90},{"p":26,"s":1,"x":18,"y":40},{"p":26,"s":1,"x":20,"y":5},
{"p":26,"s":2,"x":0,"y":60},{"p":26,"s":2,"x":5,"y":62},{"p":26,"s":2,"x":10,"y":60},{"p":26,"s":2,"x":15,"y":62},{"p":26,"s":2,"x":20,"y":60},
{"p":26,"s":3,"x":0,"y":30},{"p":26,"s":3,"x":3,"y":80},{"p":26,"s":3,"x":5,"y":100},{"p":26,"s":3,"x":8,"y":70},{"p":26,"s":3,"x":11,"y":20},{"p":26,"s":3,"x":13,"y":5},{"p":26,"s":3,"x":16,"y":40},{"p":26,"s":3,"x":18,"y":80},{"p":26,"s":3,"x":19.5,"y":100},{"p":26,"s":3,"x":20,"y":100},
{"p":26,"s":4,"x":0,"y":90},{"p":26,"s":4,"x":2,"y":95},{"p":26,"s":4,"x":4,"y":70},{"p":26,"s":4,"x":6,"y":30},{"p":26,"s":4,"x":8,"y":10},{"p":26,"s":4,"x":10,"y":20},{"p":26,"s":4,"x":12,"y":45},{"p":26,"s":4,"x":14,"y":60},{"p":26,"s":4,"x":16,"y":50},{"p":26,"s":4,"x":18,"y":40},{"p":26,"s":4,"x":20,"y":45},
{"p":26,"s":5,"x":0,"y":20},{"p":26,"s":5,"x":2,"y":10},{"p":26,"s":5,"x":4,"y":25},{"p":26,"s":5,"x":6,"y":60},{"p":26,"s":5,"x":8,"y":85},{"p":26,"s":5,"x":10,"y":100},{"p":26,"s":5,"x":12,"y":85},{"p":26,"s":5,"x":14,"y":50},{"p":26,"s":5,"x":16,"y":25},{"p":26,"s":5,"x":18,"y":10},{"p":26,"s":5,"x":20,"y":20},
{"p":26,"s":6,"x":0,"y":45},{"p":26,"s":6,"x":3,"y":35},{"p":26,"s":6,"x":6,"y":40},{"p":26,"s":6,"x":9,"y":30},{"p":26,"s":6,"x":12,"y":42},{"p":26,"s":6,"x":15,"y":35},{"p":26,"s":6,"x":18,"y":45},{"p":26,"s":6,"x":20,"y":40},
{"p":26,"s":7,"x":0,"y":75},{"p":26,"s":7,"x":2,"y":85},{"p":26,"s":7,"x":4,"y":60},{"p":26,"s":7,"x":6,"y":72},{"p":26,"s":7,"x":8,"y":55},{"p":26,"s":7,"x":10,"y":68},{"p":26,"s":7,"x":12,"y":50},{"p":26,"s":7,"x":14,"y":62},{"p":26,"s":7,"x":16,"y":70},{"p":26,"s":7,"x":18,"y":55},{"p":26,"s":7,"x":20,"y":65},
{"p":27,"s":0,"x":0,"y":5},{"p":27,"s":0,"x":2,"y":40},{"p":27,"s":0,"x":4,"y":80},{"p":27,"s":0,"x":6,"y":100},{"p":27,"s":0,"x":8,"y":80},{"p":27,"s":0,"x":10,"y":40},{"p":27,"s":0,"x":12,"y":5},{"p":27,"s":0,"x":14,"y":40},{"p":27,"s":0,"x":16,"y":80},{"p":27,"s":0,"x":18,"y":100},{"p":27,"s":0,"x":20,"y":80},
{"p":27,"s":1,"x":0,"y":100},{"p":27,"s":1,"x":2,"y":70},{"p":27,"s":1,"x":4,"y":30},{"p":27,"s":1,"x":6,"y":5},{"p":27,"s":1,"x":8,"y":30},{"p":27,"s":1,"x":10,"y":70},{"p":27,"s":1,"x":12,"y":100},{"p":27,"s":1,"x":14,"y":70},{"p":27,"s":1,"x":16,"y":30},{"p":27,"s":1,"x":18,"y":5},{"p":27,"s":1,"x":20,"y":30},
{"p":27,"s":2,"x":0,"y":30},{"p":27,"s":2,"x":3,"y":28},{"p":27,"s":2,"x":6,"y":40},{"p":27,"s":2,"x":9,"y":50},{"p":27,"s":2,"x":12,"y":57},{"p":27,"s":2,"x":15,"y":58},{"p":27,"s":2,"x":17,"y":60},{"p":27,"s":2,"x":18,"y":75},{"p":27,"s":2,"x":20,"y":100},
{"p":27,"s":3,"x":0,"y":60},{"p":27,"s":3,"x":2,"y":90},{"p":27,"s":3,"x":4,"y":100},{"p":27,"s":3,"x":6,"y":75},{"p":27,"s":3,"x":8,"y":40},{"p":27,"s":3,"x":10,"y":15},{"p":27,"s":3,"x":12,"y":10},{"p":27,"s":3,"x":14,"y":40},{"p":27,"s":3,"x":16,"y":75},{"p":27,"s":3,"x":18,"y":95},{"p":27,"s":3,"x":20,"y":90},
{"p":27,"s":4,"x":0,"y":40},{"p":27,"s":4,"x":2,"y":50},{"p":27,"s":4,"x":4,"y":45},{"p":27,"s":4,"x":6,"y":55},{"p":27,"s":4,"x":8,"y":45},{"p":27,"s":4,"x":10,"y":50},{"p":27,"s":4,"x":12,"y":40},{"p":27,"s":4,"x":14,"y":48},{"p":27,"s":4,"x":16,"y":45},{"p":27,"s":4,"x":18,"y":50},{"p":27,"s":4,"x":20,"y":45},
{"p":27,"s":5,"x":0,"y":80},{"p":27,"s":5,"x":3,"y":65},{"p":27,"s":5,"x":5,"y":40},{"p":27,"s":5,"x":8,"y":10},{"p":27,"s":5,"x":10,"y":5},{"p":27,"s":5,"x":12,"y":25},{"p":27,"s":5,"x":15,"y":60},{"p":27,"s":5,"x":17,"y":85},{"p":27,"s":5,"x":19,"y":60},{"p":27,"s":5,"x":20,"y":40},
{"p":27,"s":6,"x":0,"y":15},{"p":27,"s":6,"x":3,"y":5},{"p":27,"s":6,"x":6,"y":15},{"p":27,"s":6,"x":9,"y":50},{"p":27,"s":6,"x":12,"y":85},{"p":27,"s":6,"x":14,"y":100},{"p":27,"s":6,"x":16,"y":85},{"p":27,"s":6,"x":18,"y":50},{"p":27,"s":6,"x":20,"y":20},
{"p":27,"s":7,"x":0,"y":70},{"p":27,"s":7,"x":10,"y":70},{"p":27,"s":7,"x":20,"y":70},
{"p":28,"s":0,"x":0,"y":100},{"p":28,"s":0,"x":0.7,"y":5},{"p":28,"s":0,"x":1.4,"y":95},{"p":28,"s":0,"x":2.1,"y":5},{"p":28,"s":0,"x":2.8,"y":100},{"p":28,"s":0,"x":3.5,"y":8},{"p":28,"s":0,"x":4.5,"y":5},{"p":28,"s":0,"x":8,"y":6},{"p":28,"s":0,"x":12,"y":5},{"p":28,"s":0,"x":16,"y":6},{"p":28,"s":0,"x":20,"y":5},
{"p":28,"s":1,"x":0,"y":10},{"p":28,"s":1,"x":4,"y":10},{"p":28,"s":1,"x":5,"y":40},{"p":28,"s":1,"x":7,"y":62},{"p":28,"s":1,"x":9,"y":72},{"p":28,"s":1,"x":11,"y":58},{"p":28,"s":1,"x":13,"y":78},{"p":28,"s":1,"x":14,"y":80},{"p":28,"s":1,"x":16,"y":65},{"p":28,"s":1,"x":17,"y":50},{"p":28,"s":1,"x":18,"y":60},{"p":28,"s":1,"x":19,"y":90},{"p":28,"s":1,"x":20,"y":100},
{"p":28,"s":2,"x":0,"y":3},{"p":28,"s":2,"x":9.7,"y":3},{"p":28,"s":2,"x":10,"y":100},{"p":28,"s":2,"x":10.3,"y":3},{"p":28,"s":2,"x":20,"y":3},
{"p":28,"s":3,"x":0,"y":25},{"p":28,"s":3,"x":10,"y":26},{"p":28,"s":3,"x":20,"y":27},
{"p":28,"s":4,"x":0,"y":8},{"p":28,"s":4,"x":2,"y":12},{"p":28,"s":4,"x":4,"y":8},{"p":28,"s":4,"x":6,"y":14},{"p":28,"s":4,"x":8,"y":10},{"p":28,"s":4,"x":10,"y":15},{"p":28,"s":4,"x":12,"y":12},{"p":28,"s":4,"x":14,"y":20},{"p":28,"s":4,"x":16,"y":15},{"p":28,"s":4,"x":18,"y":22},{"p":28,"s":4,"x":20,"y":18},
{"p":28,"s":5,"x":0,"y":15},{"p":28,"s":5,"x":1,"y":100},{"p":28,"s":5,"x":2,"y":15},{"p":28,"s":5,"x":3,"y":5},{"p":28,"s":5,"x":5,"y":8},{"p":28,"s":5,"x":8,"y":12},{"p":28,"s":5,"x":11,"y":10},{"p":28,"s":5,"x":14,"y":15},{"p":28,"s":5,"x":17,"y":12},{"p":28,"s":5,"x":20,"y":10},
{"p":28,"s":6,"x":0,"y":2},{"p":28,"s":6,"x":8,"y":3},{"p":28,"s":6,"x":16,"y":3},{"p":28,"s":6,"x":17,"y":50},{"p":28,"s":6,"x":18,"y":100},{"p":28,"s":6,"x":19,"y":40},{"p":28,"s":6,"x":20,"y":100},
{"p":28,"s":7,"x":0,"y":50},{"p":28,"s":7,"x":1,"y":20},{"p":28,"s":7,"x":2,"y":5},{"p":28,"s":7,"x":10,"y":8},{"p":28,"s":7,"x":17,"y":10},{"p":28,"s":7,"x":17.6,"y":100},{"p":28,"s":7,"x":18.2,"y":5},{"p":28,"s":7,"x":20,"y":8},
{"p":29,"s":0,"x":0,"y":10},{"p":29,"s":0,"x":3,"y":12},{"p":29,"s":0,"x":4,"y":30},{"p":29,"s":0,"x":5,"y":80},{"p":29,"s":0,"x":6,"y":98},{"p":29,"s":0,"x":7,"y":100},{"p":29,"s":0,"x":20,"y":100},
{"p":29,"s":1,"x":0,"y":5},{"p":29,"s":1,"x":8,"y":8},{"p":29,"s":1,"x":9,"y":20},{"p":29,"s":1,"x":10,"y":60},{"p":29,"s":1,"x":11,"y":90},{"p":29,"s":1,"x":12,"y":100},{"p":29,"s":1,"x":20,"y":100},
{"p":29,"s":2,"x":0,"y":15},{"p":29,"s":2,"x":12,"y":18},{"p":29,"s":2,"x":13,"y":30},{"p":29,"s":2,"x":14,"y":70},{"p":29,"s":2,"x":15,"y":95},{"p":29,"s":2,"x":16,"y":100},{"p":29,"s":2,"x":20,"y":100},
{"p":29,"s":3,"x":0,"y":3},{"p":29,"s":3,"x":15,"y":5},{"p":29,"s":3,"x":16,"y":20},{"p":29,"s":3,"x":17,"y":60},{"p":29,"s":3,"x":18,"y":90},{"p":29,"s":3,"x":19,"y":100},{"p":29,"s":3,"x":20,"y":100},
{"p":29,"s":4,"x":0,"y":90},{"p":29,"s":4,"x":2,"y":70},{"p":29,"s":4,"x":4,"y":55},{"p":29,"s":4,"x":6,"y":42},{"p":29,"s":4,"x":8,"y":32},{"p":29,"s":4,"x":11,"y":22},{"p":29,"s":4,"x":14,"y":15},{"p":29,"s":4,"x":17,"y":10},{"p":29,"s":4,"x":20,"y":8},
{"p":29,"s":5,"x":0,"y":100},{"p":29,"s":5,"x":3,"y":80},{"p":29,"s":5,"x":6,"y":62},{"p":29,"s":5,"x":9,"y":48},{"p":29,"s":5,"x":12,"y":38},{"p":29,"s":5,"x":15,"y":30},{"p":29,"s":5,"x":18,"y":26},{"p":29,"s":5,"x":20,"y":25},
{"p":29,"s":6,"x":0,"y":2},{"p":29,"s":6,"x":4,"y":5},{"p":29,"s":6,"x":8,"y":12},{"p":29,"s":6,"x":11,"y":22},{"p":29,"s":6,"x":14,"y":38},{"p":29,"s":6,"x":17,"y":62},{"p":29,"s":6,"x":20,"y":95},
{"p":29,"s":7,"x":0,"y":20},{"p":29,"s":7,"x":6,"y":22},{"p":29,"s":7,"x":7,"y":40},{"p":29,"s":7,"x":8,"y":80},{"p":29,"s":7,"x":9,"y":100},{"p":29,"s":7,"x":20,"y":100},
{"p":30,"s":0,"x":0,"y":3},{"p":30,"s":0,"x":1,"y":15},{"p":30,"s":0,"x":2,"y":40},{"p":30,"s":0,"x":3,"y":60},{"p":30,"s":0,"x":4,"y":72},{"p":30,"s":0,"x":6,"y":85},{"p":30,"s":0,"x":8,"y":91},{"p":30,"s":0,"x":11,"y":95},{"p":30,"s":0,"x":15,"y":98},{"p":30,"s":0,"x":20,"y":100},
{"p":30,"s":1,"x":0,"y":2},{"p":30,"s":1,"x":1,"y":10},{"p":30,"s":1,"x":2,"y":28},{"p":30,"s":1,"x":3,"y":45},{"p":30,"s":1,"x":4,"y":58},{"p":30,"s":1,"x":6,"y":74},{"p":30,"s":1,"x":8,"y":83},{"p":30,"s":1,"x":11,"y":90},{"p":30,"s":1,"x":15,"y":95},{"p":30,"s":1,"x":20,"y":100},
{"p":30,"s":2,"x":0,"y":4},{"p":30,"s":2,"x":1,"y":20},{"p":30,"s":2,"x":2,"y":50},{"p":30,"s":2,"x":3,"y":70},{"p":30,"s":2,"x":4,"y":82},{"p":30,"s":2,"x":6,"y":92},{"p":30,"s":2,"x":8,"y":96},{"p":30,"s":2,"x":12,"y":98},{"p":30,"s":2,"x":20,"y":100},
{"p":30,"s":3,"x":0,"y":1},{"p":30,"s":3,"x":1,"y":6},{"p":30,"s":3,"x":2,"y":18},{"p":30,"s":3,"x":3,"y":32},{"p":30,"s":3,"x":4,"y":45},{"p":30,"s":3,"x":6,"y":62},{"p":30,"s":3,"x":8,"y":74},{"p":30,"s":3,"x":11,"y":84},{"p":30,"s":3,"x":15,"y":92},{"p":30,"s":3,"x":20,"y":100},
{"p":30,"s":4,"x":0,"y":3},{"p":30,"s":4,"x":1,"y":12},{"p":30,"s":4,"x":2,"y":35},{"p":30,"s":4,"x":3,"y":55},{"p":30,"s":4,"x":4,"y":68},{"p":30,"s":4,"x":6,"y":80},{"p":30,"s":4,"x":9,"y":88},{"p":30,"s":4,"x":13,"y":94},{"p":30,"s":4,"x":20,"y":100},
{"p":31,"s":0,"x":0,"y":5},{"p":31,"s":0,"x":1,"y":50},{"p":31,"s":0,"x":2,"y":95},{"p":31,"s":0,"x":3,"y":60},{"p":31,"s":0,"x":4,"y":10},{"p":31,"s":0,"x":5,"y":5},{"p":31,"s":0,"x":6,"y":40},{"p":31,"s":0,"x":7,"y":95},{"p":31,"s":0,"x":8,"y":50},{"p":31,"s":0,"x":9,"y":10},{"p":31,"s":0,"x":10,"y":5},{"p":31,"s":0,"x":11,"y":60},{"p":31,"s":0,"x":12,"y":100},{"p":31,"s":0,"x":13,"y":60},{"p":31,"s":0,"x":14,"y":10},{"p":31,"s":0,"x":15,"y":40},{"p":31,"s":0,"x":16,"y":95},{"p":31,"s":0,"x":17,"y":60},{"p":31,"s":0,"x":18,"y":10},{"p":31,"s":0,"x":19,"y":50},{"p":31,"s":0,"x":20,"y":100},
{"p":31,"s":1,"x":0,"y":92},{"p":31,"s":1,"x":10,"y":91},{"p":31,"s":1,"x":20,"y":93},
{"p":31,"s":2,"x":0,"y":100},{"p":31,"s":2,"x":2,"y":70},{"p":31,"s":2,"x":4,"y":40},{"p":31,"s":2,"x":6,"y":55},{"p":31,"s":2,"x":8,"y":70},{"p":31,"s":2,"x":10,"y":55},{"p":31,"s":2,"x":12,"y":40},{"p":31,"s":2,"x":14,"y":55},{"p":31,"s":2,"x":16,"y":70},{"p":31,"s":2,"x":18,"y":55},{"p":31,"s":2,"x":20,"y":50},
{"p":31,"s":3,"x":0,"y":60},{"p":31,"s":3,"x":10,"y":61},{"p":31,"s":3,"x":20,"y":60},
{"p":31,"s":4,"x":0,"y":2},{"p":31,"s":4,"x":20,"y":2},
{"p":31,"s":5,"x":0,"y":10},{"p":31,"s":5,"x":2,"y":5},{"p":31,"s":5,"x":4,"y":10},{"p":31,"s":5,"x":6,"y":20},{"p":31,"s":5,"x":8,"y":5},{"p":31,"s":5,"x":10,"y":15},{"p":31,"s":5,"x":12,"y":25},{"p":31,"s":5,"x":14,"y":15},{"p":31,"s":5,"x":16,"y":10},{"p":31,"s":5,"x":18,"y":20},{"p":31,"s":5,"x":20,"y":22},
{"p":31,"s":6,"x":0,"y":40},{"p":31,"s":6,"x":2,"y":80},{"p":31,"s":6,"x":3,"y":100},{"p":31,"s":6,"x":4,"y":75},{"p":31,"s":6,"x":6,"y":30},{"p":31,"s":6,"x":8,"y":20},{"p":31,"s":6,"x":10,"y":35},{"p":31,"s":6,"x":12,"y":30},{"p":31,"s":6,"x":14,"y":25},{"p":31,"s":6,"x":15,"y":90},{"p":31,"s":6,"x":16,"y":100},{"p":31,"s":6,"x":17,"y":70},{"p":31,"s":6,"x":19,"y":20},{"p":31,"s":6,"x":20,"y":10},
{"p":31,"s":7,"x":0,"y":70},{"p":31,"s":7,"x":2,"y":60},{"p":31,"s":7,"x":4,"y":45},{"p":31,"s":7,"x":6,"y":50},{"p":31,"s":7,"x":8,"y":45},{"p":31,"s":7,"x":10,"y":40},{"p":31,"s":7,"x":12,"y":45},{"p":31,"s":7,"x":14,"y":38},{"p":31,"s":7,"x":16,"y":50},{"p":31,"s":7,"x":18,"y":45},{"p":31,"s":7,"x":20,"y":40}
  ]},
  "facet": {"field": "p", "type": "ordinal", "title": null, "header": {"labels": false, "title": null, "labelFontSize": 0, "labelPadding": 0, "labelColor": "transparent", "labelExpr": "''"}},
  "columns": 4,
  "spacing": {"row": 18.5, "column": 15},
  "bounds": "flush",
  "resolve": {"axis": {"x": "independent", "y": "independent"}},
  "spec": {
    "width": 178, "height": 93,
    "layer": [
    {
      "mark": {"type": "line", "interpolate": "monotone", "strokeWidth": 1.6},
      "encoding": {
        "x": {"field": "x", "type": "quantitative", "scale": {"domain": [0, 22.11], "nice": false, "zero": false}, "axis": {"ticks": false, "labels": false, "title": null, "domainColor": "#3a3a3a", "domainWidth": 1.3}},
        "y": {"field": "y", "type": "quantitative", "scale": {"domain": [-4.1, 105.9], "nice": false, "zero": false}, "axis": {"ticks": false, "labels": false, "title": null, "domainColor": "#3a3a3a", "domainWidth": 1.3}},
        "detail": {"field": "s", "type": "nominal"},
        "color": {"field": "p", "type": "ordinal", "scale": {"domain": [1,2,3,4,5,6,7,8,9,10,11,12,13,14,15,16,17,18,19,20,21,22,23,24,25,26,27,28,29,30,31], "range": ["#000000","#000000","#000000","#000000","#000000","#000000","#000000","#000000","#000000","#000000","#000000","#000000","#000000","#000000","#000000","#000000","#000000","#000000","#000000","#000000","#000000","#000000","#000000","#000000","#21407e","#21407e","#21407e","#21407e","#2a7a80","#2a7a80","#3b9462"]}, "legend": null},
        "opacity": {"field": "s", "type": "quantitative", "scale": {"domain": [0, 8], "range": [0.85, 0.25]}, "legend": null}
      }
    },
    {
      "transform": [{"aggregate": [{"op": "max", "field": "x", "as": "mx"}], "groupby": ["p"]}],
      "mark": {"type": "text", "align": "left", "baseline": "middle", "dx": 4, "dy": 4, "fontSize": 13.5, "color": "#1a1a1a"},
      "encoding": {"x": {"field": "mx", "type": "quantitative"}, "y": {"datum": 100}, "text": {"field": "p", "type": "nominal"}}
    },
    {
      "transform": [{"aggregate": [{"op": "max", "field": "x", "as": "mx"}], "groupby": ["p"]}, {"filter": "datum.p == 1 || datum.p == 29"}],
      "mark": {"type": "text", "align": "left", "baseline": "middle", "dx": -46, "dy": 17, "fontSize": 40, "fontWeight": "bold", "color": "#000"},
      "encoding": {"x": {"datum": 0}, "y": {"datum": 100}, "text": {"condition": {"test": "datum.p == 1", "value": "D"}, "value": "E"}}
    }
    ]
  }
}
]
}
